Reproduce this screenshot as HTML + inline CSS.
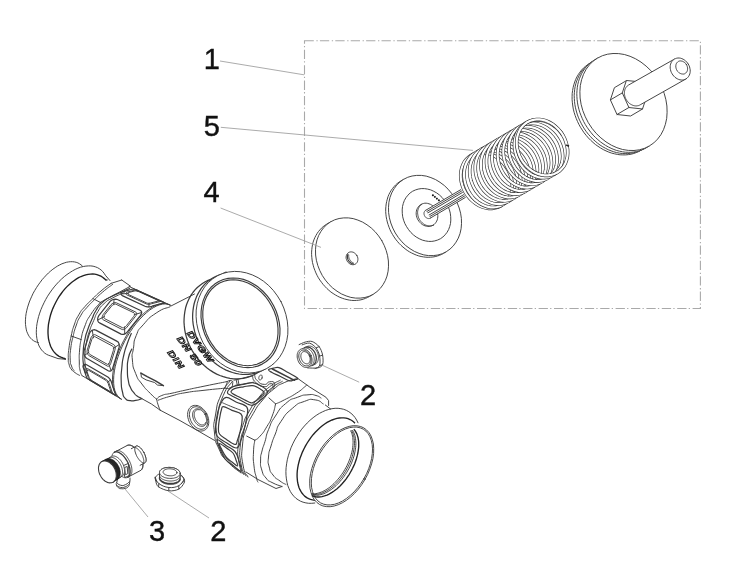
<!DOCTYPE html>
<html><head><meta charset="utf-8"><title>Exploded view</title>
<style>
html,body{margin:0;padding:0;background:#fff;}
svg{display:block}
.l{fill:none;stroke:#3c3c3c;stroke-width:0.95;stroke-linejoin:round;stroke-linecap:round}
.t{fill:none;stroke:#222;stroke-width:1.35}
.g{stroke:#9c9c9c;stroke-width:0.85;fill:none}
.d{stroke:#a9a9a9;stroke-width:1.1;fill:none;stroke-dasharray:9.3 2.6 1.3 2.2}
.e{font-family:"Liberation Sans",sans-serif;font-weight:bold;font-size:8.4px;letter-spacing:0.5px;fill:#fff;stroke:#111;stroke-width:0.8}
.n{font-family:"Liberation Sans",sans-serif;font-size:29px;fill:#111;stroke:#111;stroke-width:0.4}
</style></head><body>
<svg width="750" height="574" viewBox="0 0 750 574">
<defs><filter id="aa" filterUnits="userSpaceOnUse" x="0" y="0" width="750" height="574"><feOffset dx="0" dy="0"/></filter></defs>
<rect width="750" height="574" fill="#fff"/>
<g filter="url(#aa)">
<text class="n" x="203.8" y="69.2">1</text>
<text class="n" x="203.8" y="135.5">5</text>
<text class="n" x="203.5" y="202.2">4</text>
<text class="n" x="360.1" y="405.2">2</text>
<text class="n" x="149.1" y="540.9">3</text>
<text class="n" x="210.3" y="540.9">2</text>
<rect class="d" x="304.5" y="40.7" width="395.9" height="267.8"/>
<path class="l" d="M373.3 294.2 L369.4 296.5 L367.5 297.5 L365.4 298.4 L363.2 299.2 L361.0 299.8 L358.8 300.2 L356.5 300.4 L354.1 300.5 L351.7 300.4 L349.4 300.1 L347.0 299.6 L344.6 299.0 L342.2 298.2 L339.9 297.3 L337.6 296.2 L335.3 294.9 L333.1 293.5 L330.9 292.0 L328.9 290.3 L326.9 288.5 L325.0 286.5 L323.2 284.5 L321.5 282.3 L319.9 280.1 L318.4 277.8 L317.1 275.4 L315.9 272.9 L314.9 270.4 L313.9 267.8 L313.2 265.2 L312.5 262.6 L312.1 260.0 L311.8 257.3 L311.6 254.7 L311.6 252.1 L311.8 249.6 L312.1 247.1 L312.5 244.6 L313.1 242.2 L313.9 239.9 L314.8 237.7 L315.9 235.6 L317.1 233.5 L318.4 231.6 L319.9 229.9 L321.4 228.2 L323.1 226.7 L324.9 225.3 L326.8 224.1 L330.7 221.8" style="fill:#fff"/>
<path class="l" d="M381.7 240.5 L384.2 245.4 L386.2 250.5 L387.6 255.7 L388.4 261.0 L388.5 266.2 L388.1 271.2 L387.0 276.1 L385.3 280.6 L383.0 284.7 L380.3 288.4 L377.0 291.6 L373.3 294.2 L369.3 296.2 L364.9 297.5 L360.3 298.1 L355.6 298.1 L350.8 297.4 L346.1 295.9 L341.4 293.9 L337.0 291.2 L332.7 288.0 L328.9 284.3 L325.4 280.1 L322.3 275.5 L319.8 270.6 L317.8 265.5 L316.4 260.3 L315.6 255.0 L315.5 249.8 L315.9 244.8 L317.0 239.9 L318.7 235.4 L321.0 231.3 L323.7 227.6 L327.0 224.4 L330.7 221.8 L334.7 219.8 L339.1 218.5 L343.7 217.9 L348.4 217.9 L353.2 218.6 L357.9 220.1 L362.6 222.1 L367.0 224.8 L371.3 228.0 L375.1 231.7 L378.6 235.9 L381.7 240.5Z" style="fill:#fff"/>
<path class="l" d="M356.8 255.5 L357.2 256.2 L357.5 257.0 L357.8 257.9 L357.9 258.7 L357.9 259.6 L357.8 260.4 L357.6 261.1 L357.4 261.9 L357.0 262.5 L356.5 263.1 L356.0 263.7 L355.4 264.1 L354.7 264.4 L354.0 264.6 L353.3 264.7 L352.5 264.7 L351.8 264.6 L351.0 264.4 L350.2 264.1 L349.5 263.6 L348.8 263.1 L348.2 262.5 L347.7 261.9 L347.2 261.1 L346.8 260.4 L346.5 259.6 L346.2 258.7 L346.1 257.9 L346.1 257.0 L346.2 256.2 L346.4 255.5 L346.6 254.7 L347.0 254.1 L347.5 253.5 L348.0 252.9 L348.6 252.5 L349.3 252.2 L350.0 252.0 L350.7 251.9 L351.5 251.9 L352.2 252.0 L353.0 252.2 L353.8 252.5 L354.5 253.0 L355.2 253.5 L355.8 254.1 L356.3 254.7 L356.8 255.5Z" />
<path class="l" d="M353.6 264.0 L353.4 264.0 L353.1 263.9 L352.9 263.9 L352.6 263.8 L352.4 263.7 L352.1 263.6 L351.9 263.5 L351.7 263.4 L351.4 263.3 L351.2 263.2 L351.0 263.0 L350.7 262.9 L350.5 262.7 L350.3 262.6 L350.1 262.4 L349.9 262.2 L349.7 262.0 L349.5 261.8 L349.3 261.6 L349.1 261.4 L348.9 261.1 L348.8 260.9 L348.6 260.7 L348.5 260.4 L348.3 260.2 L348.2 259.9 L348.1 259.7 L348.0 259.4 L347.9 259.2 L347.8 258.9 L347.7 258.6 L347.6 258.4 L347.6 258.1 L347.5 257.8 L347.5 257.6 L347.4 257.3 L347.4 257.0 L347.4 256.7 L347.4 256.5 L347.4 256.2 L347.4 255.9 L347.5 255.7 L347.5 255.4 L347.6 255.2 L347.6 254.9 L347.7 254.7 L347.8 254.4 L347.9 254.2" style="stroke-width:1.2"/>
<path class="l" d="M353.3 262.9 L353.1 262.8 L352.9 262.7 L352.8 262.6 L352.6 262.5 L352.4 262.4 L352.3 262.3 L352.1 262.2 L351.9 262.1 L351.8 262.0 L351.6 261.9 L351.5 261.8 L351.3 261.6 L351.2 261.5 L351.0 261.3 L350.9 261.2 L350.7 261.1 L350.6 260.9 L350.5 260.7 L350.3 260.6 L350.2 260.4 L350.1 260.3 L350.0 260.1 L349.9 259.9 L349.8 259.7 L349.7 259.6 L349.6 259.4 L349.5 259.2 L349.4 259.0 L349.3 258.8 L349.2 258.6 L349.2 258.5 L349.1 258.3 L349.0 258.1 L349.0 257.9 L348.9 257.7 L348.9 257.5 L348.8 257.3 L348.8 257.1 L348.8 256.9 L348.7 256.7 L348.7 256.5 L348.7 256.3 L348.7 256.1 L348.7 255.9 L348.7 255.7 L348.7 255.5 L348.7 255.3 L348.7 255.1" />
<path class="l" d="M446.3 251.7 L443.6 253.3 L441.6 254.4 L439.5 255.3 L437.4 256.0 L435.2 256.6 L432.9 257.0 L430.6 257.2 L428.2 257.3 L425.9 257.2 L423.5 256.9 L421.1 256.5 L418.7 255.9 L416.3 255.1 L414.0 254.1 L411.7 253.0 L409.4 251.8 L407.2 250.4 L405.1 248.8 L403.0 247.1 L401.0 245.3 L399.1 243.4 L397.3 241.3 L395.6 239.2 L394.0 236.9 L392.6 234.6 L391.2 232.2 L390.0 229.7 L389.0 227.2 L388.1 224.6 L387.3 222.0 L386.7 219.4 L386.2 216.8 L385.9 214.2 L385.7 211.6 L385.7 209.0 L385.9 206.4 L386.2 203.9 L386.7 201.4 L387.3 199.1 L388.0 196.7 L388.9 194.5 L390.0 192.4 L391.2 190.4 L392.5 188.5 L394.0 186.7 L395.5 185.0 L397.2 183.5 L399.0 182.2 L400.9 180.9 L403.7 179.3" style="fill:#fff"/>
<path class="l" d="M454.7 198.0 L457.2 202.9 L459.2 208.0 L460.6 213.2 L461.4 218.5 L461.5 223.7 L461.1 228.7 L460.0 233.6 L458.3 238.1 L456.0 242.2 L453.3 245.9 L450.0 249.1 L446.3 251.7 L442.3 253.7 L437.9 255.0 L433.3 255.6 L428.6 255.6 L423.8 254.9 L419.1 253.4 L414.4 251.4 L410.0 248.7 L405.7 245.5 L401.9 241.8 L398.4 237.6 L395.3 233.0 L392.8 228.1 L390.8 223.0 L389.4 217.8 L388.6 212.5 L388.5 207.3 L388.9 202.3 L390.0 197.4 L391.7 192.9 L394.0 188.8 L396.7 185.1 L400.0 181.9 L403.7 179.3 L407.7 177.3 L412.1 176.0 L416.7 175.4 L421.4 175.4 L426.2 176.1 L430.9 177.6 L435.6 179.6 L440.0 182.3 L444.3 185.5 L448.1 189.2 L451.6 193.4 L454.7 198.0Z" style="fill:#fff"/>
<path class="l" d="M446.4 203.3 L448.1 206.4 L449.4 209.8 L450.3 213.2 L450.7 216.7 L450.8 220.1 L450.5 223.5 L449.7 226.6 L448.6 229.6 L447.0 232.4 L445.1 234.8 L442.9 237.0 L440.5 238.7 L437.7 240.0 L434.8 240.9 L431.8 241.4 L428.6 241.4 L425.4 240.9 L422.3 240.1 L419.2 238.7 L416.2 237.0 L413.4 234.9 L410.9 232.5 L408.6 229.7 L406.6 226.7 L404.9 223.6 L403.6 220.2 L402.7 216.8 L402.3 213.3 L402.2 209.9 L402.5 206.5 L403.3 203.4 L404.4 200.4 L406.0 197.6 L407.9 195.2 L410.1 193.0 L412.5 191.3 L415.3 190.0 L418.2 189.1 L421.2 188.6 L424.4 188.6 L427.6 189.1 L430.7 189.9 L433.8 191.3 L436.8 193.0 L439.6 195.1 L442.1 197.5 L444.4 200.3 L446.4 203.3Z" />
<path class="l" d="M435.9 209.6 L436.6 210.9 L437.2 212.4 L437.6 213.9 L437.8 215.4 L437.8 216.9 L437.6 218.4 L437.3 219.8 L436.7 221.1 L436.0 222.3 L435.2 223.4 L434.2 224.4 L433.1 225.1 L431.9 225.7 L430.6 226.1 L429.2 226.4 L427.8 226.4 L426.4 226.2 L425.0 225.8 L423.6 225.3 L422.3 224.5 L421.1 223.6 L420.0 222.5 L419.0 221.4 L418.1 220.0 L417.4 218.7 L416.8 217.2 L416.4 215.7 L416.2 214.2 L416.2 212.7 L416.4 211.2 L416.7 209.8 L417.3 208.5 L418.0 207.3 L418.8 206.2 L419.8 205.2 L420.9 204.5 L422.1 203.9 L423.4 203.5 L424.8 203.2 L426.2 203.2 L427.6 203.4 L429.0 203.8 L430.4 204.3 L431.7 205.1 L432.9 206.0 L434.0 207.1 L435.0 208.2 L435.9 209.6Z" />
<path class="l" d="M433.7 225.1 L433.1 225.3 L432.5 225.5 L431.9 225.7 L431.2 225.8 L430.6 225.9 L429.9 225.9 L429.3 225.9 L428.6 225.8 L427.9 225.7 L427.3 225.6 L426.6 225.4 L425.9 225.2 L425.3 224.9 L424.7 224.6 L424.1 224.2 L423.4 223.8 L422.9 223.4 L422.3 222.9 L421.8 222.4 L421.3 221.9 L420.8 221.4 L420.3 220.8 L419.9 220.2 L419.5 219.5 L419.1 218.9 L418.8 218.2 L418.5 217.6 L418.3 216.9 L418.1 216.2 L417.9 215.4 L417.8 214.7 L417.7 214.0 L417.6 213.3 L417.6 212.6 L417.6 211.9 L417.7 211.2 L417.8 210.5 L418.0 209.8 L418.2 209.2 L418.4 208.5 L418.7 207.9 L419.0 207.3 L419.3 206.8 L419.7 206.3 L420.1 205.8 L420.6 205.3 L421.1 204.9 L421.6 204.5" />
<path class="l" d="M430.3 218.1 L465.3 197.5 L460.7 189.7 L425.7 210.3" style="fill:#fff;stroke:none"/>
<line class="l" x1="425.7" y1="210.3" x2="460.7" y2="189.7"/>
<line class="l" x1="426.5" y1="211.7" x2="461.5" y2="191.1"/>
<line class="l" x1="427.4" y1="213.1" x2="462.4" y2="192.5"/>
<line class="l" x1="428.6" y1="215.3" x2="463.6" y2="194.7"/>
<line class="l" x1="429.5" y1="216.7" x2="464.5" y2="196.1"/>
<line class="l" x1="430.3" y1="218.1" x2="465.3" y2="197.5"/>
<path class="l" d="M430.3 218.1 L430.1 218.2 L429.9 218.3 L429.6 218.4 L429.4 218.5 L429.2 218.5 L428.9 218.5 L428.6 218.6 L428.4 218.5 L428.1 218.5 L427.9 218.5 L427.6 218.4 L427.4 218.3 L427.1 218.2 L426.9 218.1 L426.6 218.0 L426.4 217.8 L426.1 217.6 L425.9 217.4 L425.7 217.3 L425.5 217.0 L425.3 216.8 L425.1 216.6 L424.9 216.3 L424.8 216.1 L424.6 215.8 L424.5 215.6 L424.4 215.3 L424.3 215.0 L424.2 214.7 L424.1 214.4 L424.1 214.2 L424.1 213.9 L424.0 213.6 L424.0 213.3 L424.1 213.0 L424.1 212.8 L424.1 212.5 L424.2 212.2 L424.3 212.0 L424.4 211.8 L424.5 211.5 L424.6 211.3 L424.8 211.1 L424.9 210.9 L425.1 210.7 L425.3 210.6 L425.5 210.4 L425.7 210.3" style="fill:#fff"/>
<path d="M432.9 195.2l.01 .01M434.9 196.9l.01 .01M436.9 198.6l.01 .01M438.9 200.3l.01 .01" style="fill:none;stroke:#111;stroke-width:2;stroke-linecap:round"/>
<path d="M471.3 155.2 L474.2 153.8 L477.2 152.9 L480.4 152.4 L483.7 152.4 L487.0 152.9 L490.3 153.9 L493.6 155.4 L496.7 157.2 L499.6 159.5 L502.3 162.1 L504.8 165.0 L506.9 168.2 L508.8 171.5 L510.3 175.0 L511.4 178.6 L512.0 182.2 L512.3 185.8 L512.1 189.2 L511.4 192.5 L510.4 195.6 L508.9 198.4 L507.1 200.9 L504.9 203.1 L502.5 204.8" fill="none" stroke="#333" stroke-width="3.50" stroke-linecap="butt"/>
<path d="M471.3 155.2 L474.2 153.8 L477.2 152.9 L480.4 152.4 L483.7 152.4 L487.0 152.9 L490.3 153.9 L493.6 155.4 L496.7 157.2 L499.6 159.5 L502.3 162.1 L504.8 165.0 L506.9 168.2 L508.8 171.5 L510.3 175.0 L511.4 178.6 L512.0 182.2 L512.3 185.8 L512.1 189.2 L511.4 192.5 L510.4 195.6 L508.9 198.4 L507.1 200.9 L504.9 203.1 L502.5 204.8" fill="none" stroke="#fff" stroke-width="2.20" stroke-linecap="round"/>
<path d="M475.5 152.7 L478.5 151.2 L481.6 150.2 L484.9 149.7 L488.3 149.7 L491.8 150.1 L495.2 151.0 L498.6 152.4 L501.8 154.2 L504.9 156.4 L507.7 158.9 L510.3 161.8 L512.5 164.9 L514.4 168.2 L515.9 171.7 L517.0 175.3 L517.6 178.9 L517.9 182.5 L517.7 185.9 L517.0 189.2 L516.0 192.3 L514.5 195.1 L512.7 197.6 L510.5 199.8 L508.1 201.5" fill="none" stroke="#333" stroke-width="3.50" stroke-linecap="butt"/>
<path d="M475.5 152.7 L478.5 151.2 L481.6 150.2 L484.9 149.7 L488.3 149.7 L491.8 150.1 L495.2 151.0 L498.6 152.4 L501.8 154.2 L504.9 156.4 L507.7 158.9 L510.3 161.8 L512.5 164.9 L514.4 168.2 L515.9 171.7 L517.0 175.3 L517.6 178.9 L517.9 182.5 L517.7 185.9 L517.0 189.2 L516.0 192.3 L514.5 195.1 L512.7 197.6 L510.5 199.8 L508.1 201.5" fill="none" stroke="#fff" stroke-width="2.20" stroke-linecap="round"/>
<path d="M481.1 149.4 L484.1 147.9 L487.2 146.9 L490.5 146.4 L493.9 146.4 L497.4 146.8 L500.8 147.7 L504.2 149.1 L507.4 150.9 L510.5 153.1 L513.3 155.6 L515.9 158.5 L518.1 161.6 L520.0 164.9 L521.5 168.4 L522.6 172.0 L523.2 175.6 L523.5 179.2 L523.3 182.6 L522.6 185.9 L521.6 189.0 L520.1 191.8 L518.3 194.3 L516.1 196.5 L513.7 198.2" fill="none" stroke="#333" stroke-width="3.50" stroke-linecap="butt"/>
<path d="M481.1 149.4 L484.1 147.9 L487.2 146.9 L490.5 146.4 L493.9 146.4 L497.4 146.8 L500.8 147.7 L504.2 149.1 L507.4 150.9 L510.5 153.1 L513.3 155.6 L515.9 158.5 L518.1 161.6 L520.0 164.9 L521.5 168.4 L522.6 172.0 L523.2 175.6 L523.5 179.2 L523.3 182.6 L522.6 185.9 L521.6 189.0 L520.1 191.8 L518.3 194.3 L516.1 196.5 L513.7 198.2" fill="none" stroke="#fff" stroke-width="2.20" stroke-linecap="round"/>
<path d="M486.7 146.1 L489.7 144.6 L492.8 143.6 L496.1 143.1 L499.5 143.1 L503.0 143.5 L506.4 144.4 L509.8 145.8 L513.0 147.6 L516.1 149.8 L518.9 152.3 L521.5 155.2 L523.7 158.3 L525.6 161.6 L527.1 165.1 L528.2 168.7 L528.8 172.3 L529.1 175.9 L528.9 179.3 L528.2 182.6 L527.2 185.7 L525.7 188.5 L523.9 191.0 L521.7 193.2 L519.3 194.9" fill="none" stroke="#333" stroke-width="3.50" stroke-linecap="butt"/>
<path d="M486.7 146.1 L489.7 144.6 L492.8 143.6 L496.1 143.1 L499.5 143.1 L503.0 143.5 L506.4 144.4 L509.8 145.8 L513.0 147.6 L516.1 149.8 L518.9 152.3 L521.5 155.2 L523.7 158.3 L525.6 161.6 L527.1 165.1 L528.2 168.7 L528.8 172.3 L529.1 175.9 L528.9 179.3 L528.2 182.6 L527.2 185.7 L525.7 188.5 L523.9 191.0 L521.7 193.2 L519.3 194.9" fill="none" stroke="#fff" stroke-width="2.20" stroke-linecap="round"/>
<path d="M492.3 142.8 L495.3 141.3 L498.4 140.3 L501.7 139.8 L505.1 139.8 L508.6 140.2 L512.0 141.1 L515.4 142.5 L518.6 144.3 L521.7 146.5 L524.5 149.0 L527.1 151.9 L529.3 155.0 L531.2 158.3 L532.7 161.8 L533.8 165.4 L534.4 169.0 L534.7 172.6 L534.5 176.0 L533.8 179.3 L532.8 182.4 L531.3 185.2 L529.5 187.7 L527.3 189.9 L524.9 191.6" fill="none" stroke="#333" stroke-width="3.50" stroke-linecap="butt"/>
<path d="M492.3 142.8 L495.3 141.3 L498.4 140.3 L501.7 139.8 L505.1 139.8 L508.6 140.2 L512.0 141.1 L515.4 142.5 L518.6 144.3 L521.7 146.5 L524.5 149.0 L527.1 151.9 L529.3 155.0 L531.2 158.3 L532.7 161.8 L533.8 165.4 L534.4 169.0 L534.7 172.6 L534.5 176.0 L533.8 179.3 L532.8 182.4 L531.3 185.2 L529.5 187.7 L527.3 189.9 L524.9 191.6" fill="none" stroke="#fff" stroke-width="2.20" stroke-linecap="round"/>
<path d="M497.9 139.5 L500.9 138.0 L504.0 137.0 L507.3 136.5 L510.7 136.5 L514.2 136.9 L517.6 137.8 L521.0 139.2 L524.2 141.0 L527.3 143.2 L530.1 145.7 L532.7 148.6 L534.9 151.7 L536.8 155.0 L538.3 158.5 L539.4 162.1 L540.0 165.7 L540.3 169.3 L540.1 172.7 L539.4 176.0 L538.4 179.1 L536.9 181.9 L535.1 184.4 L532.9 186.6 L530.5 188.3" fill="none" stroke="#333" stroke-width="3.50" stroke-linecap="butt"/>
<path d="M497.9 139.5 L500.9 138.0 L504.0 137.0 L507.3 136.5 L510.7 136.5 L514.2 136.9 L517.6 137.8 L521.0 139.2 L524.2 141.0 L527.3 143.2 L530.1 145.7 L532.7 148.6 L534.9 151.7 L536.8 155.0 L538.3 158.5 L539.4 162.1 L540.0 165.7 L540.3 169.3 L540.1 172.7 L539.4 176.0 L538.4 179.1 L536.9 181.9 L535.1 184.4 L532.9 186.6 L530.5 188.3" fill="none" stroke="#fff" stroke-width="2.20" stroke-linecap="round"/>
<path d="M503.5 136.2 L506.5 134.7 L509.6 133.7 L512.9 133.2 L516.3 133.2 L519.8 133.6 L523.2 134.5 L526.6 135.9 L529.8 137.7 L532.9 139.9 L535.7 142.4 L538.3 145.3 L540.5 148.4 L542.4 151.7 L543.9 155.2 L545.0 158.8 L545.6 162.4 L545.9 166.0 L545.7 169.4 L545.0 172.7 L544.0 175.8 L542.5 178.6 L540.7 181.1 L538.5 183.3 L536.1 185.0" fill="none" stroke="#333" stroke-width="3.50" stroke-linecap="butt"/>
<path d="M503.5 136.2 L506.5 134.7 L509.6 133.7 L512.9 133.2 L516.3 133.2 L519.8 133.6 L523.2 134.5 L526.6 135.9 L529.8 137.7 L532.9 139.9 L535.7 142.4 L538.3 145.3 L540.5 148.4 L542.4 151.7 L543.9 155.2 L545.0 158.8 L545.6 162.4 L545.9 166.0 L545.7 169.4 L545.0 172.7 L544.0 175.8 L542.5 178.6 L540.7 181.1 L538.5 183.3 L536.1 185.0" fill="none" stroke="#fff" stroke-width="2.20" stroke-linecap="round"/>
<path d="M509.1 132.9 L512.1 131.4 L515.2 130.4 L518.5 129.9 L521.9 129.9 L525.4 130.3 L528.8 131.2 L532.2 132.6 L535.4 134.4 L538.5 136.6 L541.3 139.1 L543.9 142.0 L546.1 145.1 L548.0 148.4 L549.5 151.9 L550.6 155.5 L551.2 159.1 L551.5 162.7 L551.3 166.1 L550.6 169.4 L549.6 172.5 L548.1 175.3 L546.3 177.8 L544.1 180.0 L541.7 181.7" fill="none" stroke="#333" stroke-width="3.50" stroke-linecap="butt"/>
<path d="M509.1 132.9 L512.1 131.4 L515.2 130.4 L518.5 129.9 L521.9 129.9 L525.4 130.3 L528.8 131.2 L532.2 132.6 L535.4 134.4 L538.5 136.6 L541.3 139.1 L543.9 142.0 L546.1 145.1 L548.0 148.4 L549.5 151.9 L550.6 155.5 L551.2 159.1 L551.5 162.7 L551.3 166.1 L550.6 169.4 L549.6 172.5 L548.1 175.3 L546.3 177.8 L544.1 180.0 L541.7 181.7" fill="none" stroke="#fff" stroke-width="2.20" stroke-linecap="round"/>
<path d="M514.7 129.6 L517.7 128.1 L520.8 127.1 L524.1 126.6 L527.5 126.6 L531.0 127.0 L534.4 127.9 L537.8 129.3 L541.0 131.1 L544.1 133.3 L546.9 135.8 L549.5 138.7 L551.7 141.8 L553.6 145.1 L555.1 148.6 L556.2 152.2 L556.8 155.8 L557.1 159.4 L556.9 162.8 L556.2 166.1 L555.2 169.2 L553.7 172.0 L551.9 174.5 L549.7 176.7 L547.3 178.4" fill="none" stroke="#333" stroke-width="3.50" stroke-linecap="butt"/>
<path d="M514.7 129.6 L517.7 128.1 L520.8 127.1 L524.1 126.6 L527.5 126.6 L531.0 127.0 L534.4 127.9 L537.8 129.3 L541.0 131.1 L544.1 133.3 L546.9 135.8 L549.5 138.7 L551.7 141.8 L553.6 145.1 L555.1 148.6 L556.2 152.2 L556.8 155.8 L557.1 159.4 L556.9 162.8 L556.2 166.1 L555.2 169.2 L553.7 172.0 L551.9 174.5 L549.7 176.7 L547.3 178.4" fill="none" stroke="#fff" stroke-width="2.20" stroke-linecap="round"/>
<path d="M520.3 126.3 L523.3 124.8 L526.4 123.8 L529.7 123.3 L533.1 123.3 L536.6 123.7 L540.0 124.6 L543.4 126.0 L546.6 127.8 L549.7 130.0 L552.5 132.5 L555.1 135.4 L557.3 138.5 L559.2 141.8 L560.7 145.3 L561.8 148.9 L562.4 152.5 L562.7 156.1 L562.5 159.5 L561.8 162.8 L560.8 165.9 L559.3 168.7 L557.5 171.2 L555.3 173.4 L552.9 175.1" fill="none" stroke="#333" stroke-width="3.50" stroke-linecap="butt"/>
<path d="M520.3 126.3 L523.3 124.8 L526.4 123.8 L529.7 123.3 L533.1 123.3 L536.6 123.7 L540.0 124.6 L543.4 126.0 L546.6 127.8 L549.7 130.0 L552.5 132.5 L555.1 135.4 L557.3 138.5 L559.2 141.8 L560.7 145.3 L561.8 148.9 L562.4 152.5 L562.7 156.1 L562.5 159.5 L561.8 162.8 L560.8 165.9 L559.3 168.7 L557.5 171.2 L555.3 173.4 L552.9 175.1" fill="none" stroke="#fff" stroke-width="2.20" stroke-linecap="round"/>
<path d="M525.9 123.0 L528.9 121.5 L532.0 120.5 L535.3 120.0 L538.7 120.0 L542.2 120.4 L545.6 121.3 L549.0 122.7 L552.2 124.5 L555.3 126.7 L558.1 129.2 L560.7 132.1 L562.9 135.2 L564.7 138.6 L566.0 142.2 L567.0 145.8 L567.6 149.5 L567.7 153.1 L567.4 156.6 L566.6 160.0 L565.4 163.2 L563.9 166.1 L561.9 168.6 L559.6 170.8 L557.1 172.6" fill="none" stroke="#333" stroke-width="3.50" stroke-linecap="butt"/>
<path d="M525.9 123.0 L528.9 121.5 L532.0 120.5 L535.3 120.0 L538.7 120.0 L542.2 120.4 L545.6 121.3 L549.0 122.7 L552.2 124.5 L555.3 126.7 L558.1 129.2 L560.7 132.1 L562.9 135.2 L564.7 138.6 L566.0 142.2 L567.0 145.8 L567.6 149.5 L567.7 153.1 L567.4 156.6 L566.6 160.0 L565.4 163.2 L563.9 166.1 L561.9 168.6 L559.6 170.8 L557.1 172.6" fill="none" stroke="#fff" stroke-width="2.20" stroke-linecap="round"/>
<path d="M527.3 122.2 L530.2 120.8 L533.2 119.9 L536.4 119.4 L539.7 119.4 L543.0 119.9 L546.3 120.9 L549.6 122.4 L552.7 124.2 L555.6 126.5 L558.3 129.1 L560.8 132.0 L562.9 135.2" fill="none" stroke="#333" stroke-width="3.50" stroke-linecap="butt"/>
<path d="M527.3 122.2 L530.2 120.8 L533.2 119.9 L536.4 119.4 L539.7 119.4 L543.0 119.9 L546.3 120.9 L549.6 122.4 L552.7 124.2 L555.6 126.5 L558.3 129.1 L560.8 132.0 L562.9 135.2" fill="none" stroke="#fff" stroke-width="2.20" stroke-linecap="round"/>
<path d="M501.1 205.6 L498.2 207.0 L495.2 207.9 L492.0 208.4 L488.7 208.4 L485.4 207.9 L482.1 206.9 L478.8 205.4 L475.7 203.6 L472.8 201.3 L470.1 198.7 L467.6 195.8 L465.5 192.6 L463.7 189.2 L462.4 185.6 L461.4 182.0 L460.8 178.3 L460.7 174.7 L461.0 171.2 L461.8 167.8 L463.0 164.6 L464.5 161.7 L466.5 159.2 L468.8 157.0 L471.3 155.2" fill="none" stroke="#333" stroke-width="3.50" stroke-linecap="butt"/>
<path d="M501.1 205.6 L498.2 207.0 L495.2 207.9 L492.0 208.4 L488.7 208.4 L485.4 207.9 L482.1 206.9 L478.8 205.4 L475.7 203.6 L472.8 201.3 L470.1 198.7 L467.6 195.8 L465.5 192.6 L463.7 189.2 L462.4 185.6 L461.4 182.0 L460.8 178.3 L460.7 174.7 L461.0 171.2 L461.8 167.8 L463.0 164.6 L464.5 161.7 L466.5 159.2 L468.8 157.0 L471.3 155.2" fill="none" stroke="#fff" stroke-width="2.20" stroke-linecap="round"/>
<path d="M502.5 204.8 L499.8 206.1 L496.8 207.0 L493.8 207.4 L490.6 207.3 L487.4 206.7 L484.2 205.6 L481.0 204.1 L478.0 202.2 L475.2 199.9 L472.6 197.2 L470.3 194.2 L468.3 190.9 L466.7 187.5 L465.4 183.9 L464.5 180.1 L464.1 176.4 L464.1 172.7 L464.5 169.1 L465.4 165.7 L466.7 162.4 L468.4 159.5 L470.4 156.8 L472.8 154.6 L475.5 152.7" fill="none" stroke="#333" stroke-width="3.50" stroke-linecap="butt"/>
<path d="M502.5 204.8 L499.8 206.1 L496.8 207.0 L493.8 207.4 L490.6 207.3 L487.4 206.7 L484.2 205.6 L481.0 204.1 L478.0 202.2 L475.2 199.9 L472.6 197.2 L470.3 194.2 L468.3 190.9 L466.7 187.5 L465.4 183.9 L464.5 180.1 L464.1 176.4 L464.1 172.7 L464.5 169.1 L465.4 165.7 L466.7 162.4 L468.4 159.5 L470.4 156.8 L472.8 154.6 L475.5 152.7" fill="none" stroke="#fff" stroke-width="2.20" stroke-linecap="round"/>
<path d="M508.1 201.5 L505.4 202.8 L502.4 203.7 L499.4 204.1 L496.2 204.0 L493.0 203.4 L489.8 202.3 L486.6 200.8 L483.6 198.9 L480.8 196.6 L478.2 193.9 L475.9 190.9 L473.9 187.6 L472.3 184.2 L471.0 180.6 L470.1 176.8 L469.7 173.1 L469.7 169.4 L470.1 165.8 L471.0 162.4 L472.3 159.1 L474.0 156.2 L476.0 153.5 L478.4 151.3 L481.1 149.4" fill="none" stroke="#333" stroke-width="3.50" stroke-linecap="butt"/>
<path d="M508.1 201.5 L505.4 202.8 L502.4 203.7 L499.4 204.1 L496.2 204.0 L493.0 203.4 L489.8 202.3 L486.6 200.8 L483.6 198.9 L480.8 196.6 L478.2 193.9 L475.9 190.9 L473.9 187.6 L472.3 184.2 L471.0 180.6 L470.1 176.8 L469.7 173.1 L469.7 169.4 L470.1 165.8 L471.0 162.4 L472.3 159.1 L474.0 156.2 L476.0 153.5 L478.4 151.3 L481.1 149.4" fill="none" stroke="#fff" stroke-width="2.20" stroke-linecap="round"/>
<path d="M513.7 198.2 L511.0 199.5 L508.0 200.4 L505.0 200.8 L501.8 200.7 L498.6 200.1 L495.4 199.0 L492.2 197.5 L489.2 195.6 L486.4 193.3 L483.8 190.6 L481.5 187.6 L479.5 184.3 L477.9 180.9 L476.6 177.3 L475.7 173.5 L475.3 169.8 L475.3 166.1 L475.7 162.5 L476.6 159.1 L477.9 155.8 L479.6 152.9 L481.6 150.2 L484.0 148.0 L486.7 146.1" fill="none" stroke="#333" stroke-width="3.50" stroke-linecap="butt"/>
<path d="M513.7 198.2 L511.0 199.5 L508.0 200.4 L505.0 200.8 L501.8 200.7 L498.6 200.1 L495.4 199.0 L492.2 197.5 L489.2 195.6 L486.4 193.3 L483.8 190.6 L481.5 187.6 L479.5 184.3 L477.9 180.9 L476.6 177.3 L475.7 173.5 L475.3 169.8 L475.3 166.1 L475.7 162.5 L476.6 159.1 L477.9 155.8 L479.6 152.9 L481.6 150.2 L484.0 148.0 L486.7 146.1" fill="none" stroke="#fff" stroke-width="2.20" stroke-linecap="round"/>
<path d="M519.3 194.9 L516.6 196.2 L513.6 197.1 L510.6 197.5 L507.4 197.4 L504.2 196.8 L501.0 195.7 L497.8 194.2 L494.8 192.3 L492.0 190.0 L489.4 187.3 L487.1 184.3 L485.1 181.0 L483.5 177.6 L482.2 174.0 L481.3 170.2 L480.9 166.5 L480.9 162.8 L481.3 159.2 L482.2 155.8 L483.5 152.5 L485.2 149.6 L487.2 146.9 L489.6 144.7 L492.3 142.8" fill="none" stroke="#333" stroke-width="3.50" stroke-linecap="butt"/>
<path d="M519.3 194.9 L516.6 196.2 L513.6 197.1 L510.6 197.5 L507.4 197.4 L504.2 196.8 L501.0 195.7 L497.8 194.2 L494.8 192.3 L492.0 190.0 L489.4 187.3 L487.1 184.3 L485.1 181.0 L483.5 177.6 L482.2 174.0 L481.3 170.2 L480.9 166.5 L480.9 162.8 L481.3 159.2 L482.2 155.8 L483.5 152.5 L485.2 149.6 L487.2 146.9 L489.6 144.7 L492.3 142.8" fill="none" stroke="#fff" stroke-width="2.20" stroke-linecap="round"/>
<path d="M524.9 191.6 L522.2 192.9 L519.2 193.8 L516.2 194.2 L513.0 194.1 L509.8 193.5 L506.6 192.4 L503.4 190.9 L500.4 189.0 L497.6 186.7 L495.0 184.0 L492.7 181.0 L490.7 177.7 L489.1 174.3 L487.8 170.7 L486.9 166.9 L486.5 163.2 L486.5 159.5 L486.9 155.9 L487.8 152.5 L489.1 149.2 L490.8 146.3 L492.8 143.6 L495.2 141.4 L497.9 139.5" fill="none" stroke="#333" stroke-width="3.50" stroke-linecap="butt"/>
<path d="M524.9 191.6 L522.2 192.9 L519.2 193.8 L516.2 194.2 L513.0 194.1 L509.8 193.5 L506.6 192.4 L503.4 190.9 L500.4 189.0 L497.6 186.7 L495.0 184.0 L492.7 181.0 L490.7 177.7 L489.1 174.3 L487.8 170.7 L486.9 166.9 L486.5 163.2 L486.5 159.5 L486.9 155.9 L487.8 152.5 L489.1 149.2 L490.8 146.3 L492.8 143.6 L495.2 141.4 L497.9 139.5" fill="none" stroke="#fff" stroke-width="2.20" stroke-linecap="round"/>
<path d="M530.5 188.3 L527.8 189.6 L524.8 190.5 L521.8 190.9 L518.6 190.8 L515.4 190.2 L512.2 189.1 L509.0 187.6 L506.0 185.7 L503.2 183.4 L500.6 180.7 L498.3 177.7 L496.3 174.4 L494.7 171.0 L493.4 167.4 L492.5 163.6 L492.1 159.9 L492.1 156.2 L492.5 152.6 L493.4 149.2 L494.7 145.9 L496.4 143.0 L498.4 140.3 L500.8 138.1 L503.5 136.2" fill="none" stroke="#333" stroke-width="3.50" stroke-linecap="butt"/>
<path d="M530.5 188.3 L527.8 189.6 L524.8 190.5 L521.8 190.9 L518.6 190.8 L515.4 190.2 L512.2 189.1 L509.0 187.6 L506.0 185.7 L503.2 183.4 L500.6 180.7 L498.3 177.7 L496.3 174.4 L494.7 171.0 L493.4 167.4 L492.5 163.6 L492.1 159.9 L492.1 156.2 L492.5 152.6 L493.4 149.2 L494.7 145.9 L496.4 143.0 L498.4 140.3 L500.8 138.1 L503.5 136.2" fill="none" stroke="#fff" stroke-width="2.20" stroke-linecap="round"/>
<path d="M536.1 185.0 L533.4 186.3 L530.4 187.2 L527.4 187.6 L524.2 187.5 L521.0 186.9 L517.8 185.8 L514.6 184.3 L511.6 182.4 L508.8 180.1 L506.2 177.4 L503.9 174.4 L501.9 171.1 L500.3 167.7 L499.0 164.1 L498.1 160.3 L497.7 156.6 L497.7 152.9 L498.1 149.3 L499.0 145.9 L500.3 142.6 L502.0 139.7 L504.0 137.0 L506.4 134.8 L509.1 132.9" fill="none" stroke="#333" stroke-width="3.50" stroke-linecap="butt"/>
<path d="M536.1 185.0 L533.4 186.3 L530.4 187.2 L527.4 187.6 L524.2 187.5 L521.0 186.9 L517.8 185.8 L514.6 184.3 L511.6 182.4 L508.8 180.1 L506.2 177.4 L503.9 174.4 L501.9 171.1 L500.3 167.7 L499.0 164.1 L498.1 160.3 L497.7 156.6 L497.7 152.9 L498.1 149.3 L499.0 145.9 L500.3 142.6 L502.0 139.7 L504.0 137.0 L506.4 134.8 L509.1 132.9" fill="none" stroke="#fff" stroke-width="2.20" stroke-linecap="round"/>
<path d="M541.7 181.7 L539.0 183.0 L536.0 183.9 L533.0 184.3 L529.8 184.2 L526.6 183.6 L523.4 182.5 L520.2 181.0 L517.2 179.1 L514.4 176.8 L511.8 174.1 L509.5 171.1 L507.5 167.8 L505.9 164.4 L504.6 160.8 L503.7 157.0 L503.3 153.3 L503.3 149.6 L503.7 146.0 L504.6 142.6 L505.9 139.3 L507.6 136.4 L509.6 133.7 L512.0 131.5 L514.7 129.6" fill="none" stroke="#333" stroke-width="3.50" stroke-linecap="butt"/>
<path d="M541.7 181.7 L539.0 183.0 L536.0 183.9 L533.0 184.3 L529.8 184.2 L526.6 183.6 L523.4 182.5 L520.2 181.0 L517.2 179.1 L514.4 176.8 L511.8 174.1 L509.5 171.1 L507.5 167.8 L505.9 164.4 L504.6 160.8 L503.7 157.0 L503.3 153.3 L503.3 149.6 L503.7 146.0 L504.6 142.6 L505.9 139.3 L507.6 136.4 L509.6 133.7 L512.0 131.5 L514.7 129.6" fill="none" stroke="#fff" stroke-width="2.20" stroke-linecap="round"/>
<path d="M547.3 178.4 L544.6 179.7 L541.6 180.6 L538.6 181.0 L535.4 180.9 L532.2 180.3 L529.0 179.2 L525.8 177.7 L522.8 175.8 L520.0 173.5 L517.4 170.8 L515.1 167.8 L513.1 164.5 L511.5 161.1 L510.2 157.5 L509.3 153.7 L508.9 150.0 L508.9 146.3 L509.3 142.7 L510.2 139.3 L511.5 136.0 L513.2 133.1 L515.2 130.4 L517.6 128.2 L520.3 126.3" fill="none" stroke="#333" stroke-width="3.50" stroke-linecap="butt"/>
<path d="M547.3 178.4 L544.6 179.7 L541.6 180.6 L538.6 181.0 L535.4 180.9 L532.2 180.3 L529.0 179.2 L525.8 177.7 L522.8 175.8 L520.0 173.5 L517.4 170.8 L515.1 167.8 L513.1 164.5 L511.5 161.1 L510.2 157.5 L509.3 153.7 L508.9 150.0 L508.9 146.3 L509.3 142.7 L510.2 139.3 L511.5 136.0 L513.2 133.1 L515.2 130.4 L517.6 128.2 L520.3 126.3" fill="none" stroke="#fff" stroke-width="2.20" stroke-linecap="round"/>
<path d="M552.9 175.1 L550.2 176.4 L547.2 177.3 L544.2 177.7 L541.0 177.6 L537.8 177.0 L534.6 175.9 L531.4 174.4 L528.4 172.5 L525.6 170.2 L523.0 167.5 L520.7 164.5 L518.7 161.2 L517.1 157.8 L515.8 154.2 L514.9 150.4 L514.5 146.7 L514.5 143.0 L514.9 139.4 L515.8 136.0 L517.1 132.7 L518.8 129.8 L520.8 127.1 L523.2 124.9 L525.9 123.0" fill="none" stroke="#333" stroke-width="3.50" stroke-linecap="butt"/>
<path d="M552.9 175.1 L550.2 176.4 L547.2 177.3 L544.2 177.7 L541.0 177.6 L537.8 177.0 L534.6 175.9 L531.4 174.4 L528.4 172.5 L525.6 170.2 L523.0 167.5 L520.7 164.5 L518.7 161.2 L517.1 157.8 L515.8 154.2 L514.9 150.4 L514.5 146.7 L514.5 143.0 L514.9 139.4 L515.8 136.0 L517.1 132.7 L518.8 129.8 L520.8 127.1 L523.2 124.9 L525.9 123.0" fill="none" stroke="#fff" stroke-width="2.20" stroke-linecap="round"/>
<path d="M557.1 172.6 L554.2 174.0 L551.2 174.9 L548.0 175.4 L544.7 175.4 L541.4 174.9 L538.1 173.9 L534.8 172.4 L531.7 170.6 L528.8 168.3 L526.1 165.7 L523.6 162.8 L521.5 159.6 L519.7 156.2 L518.4 152.6 L517.4 149.0 L516.8 145.3 L516.7 141.7 L517.0 138.2 L517.8 134.8 L519.0 131.6 L520.5 128.7 L522.5 126.2 L524.8 124.0 L527.3 122.2" fill="none" stroke="#333" stroke-width="3.50" stroke-linecap="butt"/>
<path d="M557.1 172.6 L554.2 174.0 L551.2 174.9 L548.0 175.4 L544.7 175.4 L541.4 174.9 L538.1 173.9 L534.8 172.4 L531.7 170.6 L528.8 168.3 L526.1 165.7 L523.6 162.8 L521.5 159.6 L519.7 156.2 L518.4 152.6 L517.4 149.0 L516.8 145.3 L516.7 141.7 L517.0 138.2 L517.8 134.8 L519.0 131.6 L520.5 128.7 L522.5 126.2 L524.8 124.0 L527.3 122.2" fill="none" stroke="#fff" stroke-width="2.20" stroke-linecap="round"/>
<path d="M566.2 145.0L569.0 146.3" style="fill:none;stroke:#222;stroke-width:1.5"/>
<path class="l" d="M649.1 145.5 L640.9 150.3 L638.6 151.6 L636.2 152.6 L633.7 153.5 L631.1 154.2 L628.4 154.6 L625.7 154.9 L622.9 154.9 L620.1 154.8 L617.3 154.4 L614.5 153.8 L611.6 153.1 L608.8 152.1 L606.0 150.9 L603.3 149.6 L600.6 148.0 L598.0 146.3 L595.4 144.5 L593.0 142.4 L590.6 140.2 L588.3 137.9 L586.2 135.4 L584.1 132.8 L582.3 130.1 L580.5 127.3 L578.9 124.4 L577.5 121.5 L576.2 118.4 L575.1 115.4 L574.1 112.3 L573.3 109.1 L572.8 106.0 L572.4 102.8 L572.1 99.7 L572.1 96.6 L572.2 93.5 L572.6 90.6 L573.1 87.6 L573.8 84.8 L574.7 82.0 L575.7 79.4 L576.9 76.9 L578.3 74.5 L579.9 72.2 L581.5 70.1 L583.4 68.1 L585.4 66.4 L587.5 64.7 L589.7 63.3 L597.9 58.5" style="fill:#fff"/>
<path class="l" d="M649.1 145.5 L643.1 149.1 L640.8 150.3 L638.3 151.4 L635.8 152.2 L633.2 152.9 L630.5 153.3 L627.8 153.6 L625.1 153.6 L622.3 153.5 L619.4 153.1 L616.6 152.6 L613.8 151.8 L611.0 150.8 L608.2 149.7 L605.5 148.3 L602.8 146.8 L600.1 145.1 L597.6 143.2 L595.1 141.1 L592.7 139.0 L590.5 136.6 L588.3 134.2 L586.3 131.6 L584.4 128.9 L582.7 126.1 L581.1 123.2 L579.6 120.2 L578.3 117.2 L577.2 114.1 L576.3 111.0 L575.5 107.8 L574.9 104.7 L574.5 101.6 L574.3 98.4 L574.2 95.3 L574.4 92.3 L574.7 89.3 L575.2 86.4 L575.9 83.5 L576.8 80.8 L577.9 78.1 L579.1 75.6 L580.5 73.2 L582.0 70.9 L583.7 68.8 L585.5 66.9 L587.5 65.1 L589.6 63.5 L591.8 62.0 L597.9 58.5" style="fill:#fff"/>
<path class="l" d="M649.4 145.9 L646.4 147.7 L644.0 149.0 L641.6 150.0 L639.0 150.9 L636.4 151.6 L633.7 152.0 L630.9 152.3 L628.2 152.3 L625.3 152.2 L622.5 151.8 L619.6 151.2 L616.8 150.5 L613.9 149.5 L611.1 148.3 L608.4 147.0 L605.6 145.4 L603.0 143.7 L600.4 141.8 L597.9 139.7 L595.5 137.5 L593.2 135.2 L591.1 132.7 L589.0 130.0 L587.1 127.3 L585.3 124.5 L583.7 121.6 L582.3 118.6 L581.0 115.5 L579.8 112.4 L578.9 109.3 L578.1 106.1 L577.5 102.9 L577.1 99.7 L576.9 96.6 L576.8 93.5 L577.0 90.4 L577.3 87.3 L577.8 84.4 L578.5 81.5 L579.4 78.7 L580.5 76.1 L581.7 73.5 L583.1 71.1 L584.7 68.8 L586.4 66.7 L588.2 64.7 L590.2 62.9 L592.4 61.3 L594.6 59.8 L597.6 58.1" style="fill:#fff"/>
<path class="l" d="M658.7 81.3 L661.7 87.2 L664.2 93.4 L665.9 99.7 L666.9 106.0 L667.1 112.3 L666.7 118.4 L665.4 124.3 L663.5 129.7 L660.9 134.7 L657.6 139.1 L653.8 142.9 L649.4 145.9 L644.6 148.3 L639.4 149.8 L634.0 150.5 L628.3 150.4 L622.6 149.5 L616.9 147.7 L611.4 145.2 L606.0 141.9 L600.9 137.9 L596.2 133.4 L592.0 128.3 L588.3 122.7 L585.3 116.8 L582.8 110.6 L581.1 104.3 L580.1 98.0 L579.9 91.7 L580.3 85.6 L581.6 79.7 L583.5 74.3 L586.1 69.3 L589.4 64.9 L593.2 61.1 L597.6 58.1 L602.4 55.7 L607.6 54.2 L613.0 53.5 L618.7 53.6 L624.4 54.5 L630.1 56.3 L635.6 58.8 L641.0 62.1 L646.1 66.1 L650.8 70.6 L655.0 75.7 L658.7 81.3Z" style="fill:#fff"/>
<path class="l" d="M626.3 80.7 L614.4 87.7 L610.4 99.9 L617.0 114.5 L630.6 116.0 L642.5 109.0 L646.5 96.9 L640.0 82.2Z" style="fill:#fff"/>
<path class="l" d="M626.3 80.7 L622.3 92.9 L628.9 107.5 L642.5 109.0" />
<line class="l" x1="622.3" y1="92.9" x2="610.4" y2="99.9"/>
<line class="l" x1="628.9" y1="107.5" x2="617.0" y2="114.5"/>
<path class="l" d="M686.0 78.9 L640.2 104.8 L639.7 105.1 L639.1 105.3 L638.5 105.6 L637.9 105.7 L637.3 105.8 L636.7 105.9 L636.0 105.9 L635.4 105.9 L634.7 105.8 L634.1 105.7 L633.4 105.5 L632.8 105.3 L632.1 105.0 L631.5 104.7 L630.9 104.4 L630.3 104.0 L629.7 103.6 L629.1 103.1 L628.6 102.6 L628.1 102.1 L627.6 101.5 L627.1 100.9 L626.7 100.3 L626.3 99.7 L625.9 99.0 L625.6 98.4 L625.3 97.7 L625.0 97.0 L624.8 96.2 L624.7 95.5 L624.5 94.8 L624.4 94.1 L624.4 93.4 L624.4 92.7 L624.4 92.0 L624.5 91.3 L624.7 90.6 L624.8 90.0 L625.0 89.3 L625.3 88.7 L625.6 88.1 L625.9 87.6 L626.3 87.1 L626.7 86.6 L627.1 86.1 L627.6 85.7 L628.0 85.3 L628.6 85.0 L674.4 59.1" style="fill:#fff"/>
<path class="l" d="M688.3 64.2 L689.0 65.5 L689.6 66.9 L689.9 68.4 L690.2 69.8 L690.2 71.2 L690.1 72.6 L689.8 73.9 L689.3 75.2 L688.7 76.3 L687.9 77.3 L687.0 78.2 L686.0 78.9 L684.9 79.4 L683.7 79.8 L682.5 80.0 L681.2 80.0 L679.9 79.8 L678.6 79.4 L677.3 78.8 L676.1 78.1 L674.9 77.2 L673.9 76.2 L672.9 75.0 L672.1 73.8 L671.4 72.5 L670.8 71.1 L670.5 69.6 L670.2 68.2 L670.2 66.8 L670.3 65.4 L670.6 64.1 L671.1 62.8 L671.7 61.7 L672.5 60.7 L673.4 59.8 L674.4 59.1 L675.5 58.6 L676.7 58.2 L677.9 58.0 L679.2 58.0 L680.5 58.2 L681.8 58.6 L683.1 59.2 L684.3 59.9 L685.5 60.8 L686.5 61.8 L687.5 63.0 L688.3 64.2Z" style="fill:#fff"/>
<path class="l" d="M686.5 64.7 L686.9 65.5 L687.2 66.3 L687.4 67.2 L687.6 68.0 L687.6 68.9 L687.5 69.7 L687.4 70.5 L687.1 71.2 L686.8 71.9 L686.3 72.5 L685.8 73.0 L685.2 73.4 L684.6 73.8 L683.9 74.0 L683.1 74.1 L682.4 74.0 L681.6 73.9 L680.8 73.7 L680.1 73.3 L679.3 72.9 L678.6 72.4 L678.0 71.7 L677.4 71.1 L676.9 70.3 L676.5 69.5 L676.2 68.7 L676.0 67.8 L675.8 67.0 L675.8 66.1 L675.9 65.3 L676.0 64.5 L676.3 63.8 L676.6 63.1 L677.1 62.5 L677.6 62.0 L678.2 61.6 L678.8 61.2 L679.5 61.0 L680.3 60.9 L681.0 61.0 L681.8 61.1 L682.6 61.3 L683.3 61.7 L684.1 62.1 L684.8 62.6 L685.4 63.3 L686.0 63.9 L686.5 64.7Z" />
<path class="l" d="M38.4 342.6 L36.6 342.1 L34.9 341.5 L33.4 340.6 L31.9 339.5 L30.6 338.2 L29.4 336.7 L28.4 335.1 L27.5 333.2 L26.7 331.3 L26.2 329.1 L25.8 326.8 L25.5 324.4 L25.4 321.9 L25.5 319.2 L25.7 316.5 L26.1 313.7 L26.7 310.8 L27.4 307.9 L28.3 305.0 L29.3 302.0 L30.5 299.1 L31.8 296.2 L33.2 293.2 L34.8 290.4 L36.5 287.6 L38.3 284.9 L40.2 282.3 L42.1 279.7 L44.2 277.4 L46.3 275.1 L48.4 273.0 L50.7 271.0 L52.9 269.2 L55.2 267.6 L57.4 266.1 L59.7 264.9 L61.9 263.8 L64.2 263.0 L66.3 262.3 L68.5 261.9 L70.5 261.7 L72.5 261.7 L74.4 261.9 L76.2 262.3 L77.9 262.9 L79.5 263.8 L81.0 264.8 L82.4 266.1" />
<path class="l" d="M65.6 359.3 L58.0 358.6 L50.8 356.0 L48.7 355.3 L46.7 354.4 L44.8 353.2 L43.2 351.7 L41.6 350.0 L40.3 348.1 L39.1 346.0 L38.2 343.7 L37.4 341.2 L36.9 338.6 L36.5 335.8 L36.3 332.8 L36.4 329.7 L36.6 326.5 L37.1 323.2 L37.8 319.9 L38.6 316.5 L39.7 313.1 L40.9 309.7 L42.4 306.2 L44.0 302.8 L45.7 299.5 L47.6 296.2 L49.7 293.0 L51.9 289.9 L54.2 286.9 L56.6 284.1 L59.1 281.4 L61.7 278.9 L64.3 276.6 L67.0 274.5 L69.8 272.6 L72.5 270.9 L75.2 269.4 L77.9 268.2 L80.6 267.2 L83.3 266.5 L85.9 266.1 L88.4 265.9 L90.8 265.9 L93.1 266.2 L95.3 266.8 L97.4 267.6 L99.3 268.7 L101.1 270.0 L102.7 271.5 L104.1 273.3 L105.4 275.3 L110.0 280.6" />
<path class="t" d="M65.6 359.3 L65.0 358.5 L62.9 358.0 L60.9 357.2 L59.1 356.3 L57.3 355.1 L55.7 353.7 L54.2 352.1 L52.9 350.3 L51.7 348.3 L50.6 346.2 L49.8 343.8 L49.1 341.4 L48.5 338.8 L48.2 336.0 L48.0 333.2 L48.0 330.3 L48.2 327.3 L48.5 324.2 L49.1 321.1 L49.8 317.9 L50.6 314.8 L51.6 311.7 L52.8 308.6 L54.2 305.5 L55.7 302.5 L57.3 299.5 L59.0 296.7 L60.9 294.0 L62.8 291.4 L64.9 288.9 L67.0 286.6 L69.3 284.4 L71.5 282.5 L73.9 280.7 L76.2 279.1 L78.6 277.7 L81.0 276.5 L83.4 275.6 L85.8 274.8 L88.1 274.3 L90.4 274.1 L92.7 274.0 L94.8 274.2 L96.9 274.6 L98.9 275.3 L100.9 276.2 L102.6 277.3 L104.3 278.6 L105.8 280.1 L107.5 279.8" />
<path class="l" d="M121.7 280.0 L111.0 283.4" />
<path class="l" d="M111.0 283.4 C107.7 285.9 107.0 285.9 101.0 291.0 C95.0 296.1 98.2 293.4 92.9 298.6 C87.6 303.8 89.7 301.1 85.0 306.5 C80.3 311.9 82.4 308.6 78.8 314.8 C75.2 321.0 76.7 317.9 74.2 325.0 C71.7 332.1 72.9 328.3 71.2 336.0 C69.5 343.7 70.0 340.3 69.0 348.0 C68.0 355.7 68.3 353.7 68.3 359.0 C68.3 364.3 68.1 360.7 69.0 364.0 C69.9 367.3 69.0 365.9 71.0 368.8 C73.0 371.7 72.2 370.4 75.0 372.6 C77.8 374.8 78.0 374.4 79.5 375.3" />
<path class="l" d="M112.6 284.4 C109.2 287.0 108.5 287.1 102.5 292.2 C96.5 297.3 97.2 297.1 94.6 299.6" />
<path class="l" d="M94.6 299.6 C92.0 302.3 91.5 302.2 86.8 307.6 C82.1 313.0 84.2 309.7 80.6 315.8 C77.0 321.9 78.5 319.1 76.0 326.0 C73.5 332.9 74.0 333.1 73.0 336.6" />
<path class="l" d="M73.0 336.6 C72.3 340.4 71.7 340.5 70.8 348.0 C69.9 355.5 70.0 353.0 70.2 359.0 C70.4 365.0 70.2 362.2 71.5 366.0 C72.8 369.8 73.2 369.0 74.0 370.5" />
<path class="l" d="M121.7 280.0 L130.5 286.2 L100.3 302.4" />
<path class="l" d="M92.9 298.6 L100.3 302.4" />
<path class="l" d="M100.3 302.4 C97.2 306.4 96.2 306.1 90.9 314.3 C85.6 322.5 87.8 318.6 84.5 327.0 C81.2 335.4 82.2 335.3 81.0 339.5" />
<path class="l" d="M71.2 336.0 L81.0 339.5" />
<path class="l" d="M81.0 339.5 C80.5 343.0 80.2 342.5 79.6 350.0 C79.0 357.5 79.2 355.3 79.3 362.0 C79.4 368.7 79.1 365.4 80.0 370.0 C80.9 374.6 81.3 373.9 82.0 375.8" />
<path class="l" d="M133.0 289.0 L133.9 289.2 L135.0 289.5 L136.3 289.9 L137.6 290.4 L138.8 291.0 L140.0 291.5 L162.7 301.7 L163.6 302.2 L164.3 302.5 L164.7 302.8 L164.8 303.0 L164.5 303.0 L163.8 303.0 L152.9 305.8 L151.8 306.3 L150.4 306.7 L149.0 306.9 L147.5 306.9 L146.2 306.7 L145.0 306.3 L122.8 295.9 L121.9 295.3 L121.3 294.6 L121.0 293.8 L121.2 293.1 L121.7 292.3 L122.5 291.8Z" style="stroke-width:1.20"/>
<path class="l" d="M134.6 290.3 L135.3 290.4 L136.1 290.5 L137.0 290.7 L137.9 291.1 L138.8 291.4 L139.6 291.7 L158.9 300.5 L159.6 300.8 L160.1 301.1 L160.3 301.4 L160.4 301.5 L160.1 301.6 L159.6 301.7 L151.6 303.7 L150.9 304.0 L149.9 304.2 L148.9 304.3 L147.9 304.3 L146.9 304.1 L146.1 303.8 L127.1 295.0 L126.4 294.6 L126.0 294.1 L125.9 293.6 L125.9 293.1 L126.3 292.7 L126.9 292.3Z" style="stroke-width:0.95"/>
<path class="l" d="M135.4 290.9 L135.9 290.9 L136.5 291.0 L137.2 291.2 L137.9 291.4 L138.6 291.6 L139.2 291.8 L157.7 300.2 L158.1 300.5 L158.5 300.7 L158.6 300.9 L158.6 301.0 L158.3 301.1 L157.9 301.1 L151.0 302.9 L150.3 303.1 L149.6 303.3 L148.9 303.4 L148.1 303.3 L147.4 303.2 L146.8 303.0 L128.6 294.6 L128.1 294.3 L127.8 294.0 L127.7 293.6 L127.8 293.2 L128.1 292.9 L128.6 292.6Z" style="stroke-width:0.95"/>
<line class="l" x1="136.3" y1="289.9" x2="137.1" y2="291.2"/>
<line class="l" x1="164.7" y1="302.8" x2="158.0" y2="300.7"/>
<line class="l" x1="121.0" y1="293.9" x2="128.4" y2="293.5"/>
<line class="l" x1="148.9" y1="306.9" x2="149.1" y2="303.0"/>
<path class="l" d="M110.1 301.4 L111.2 300.5 L112.5 299.8 L114.0 299.3 L115.4 299.2 L116.7 299.3 L117.9 299.7 L140.0 310.2 L140.9 310.8 L141.5 311.6 L141.7 312.6 L141.5 313.6 L140.9 314.7 L140.1 315.8 L128.3 330.7 L127.3 332.0 L126.1 333.1 L124.8 333.9 L123.5 334.4 L122.2 334.4 L121.1 334.1 L99.5 322.9 L98.6 322.2 L98.0 321.2 L97.7 319.9 L97.7 318.5 L98.1 317.1 L98.8 315.7Z" style="stroke-width:1.20"/>
<path class="l" d="M111.3 304.4 L112.1 303.7 L113.0 303.2 L114.0 302.8 L115.0 302.7 L116.0 302.7 L116.8 303.0 L135.6 312.0 L136.2 312.4 L136.6 313.0 L136.7 313.8 L136.6 314.6 L136.2 315.4 L135.6 316.2 L127.1 327.0 L126.3 327.9 L125.5 328.7 L124.5 329.3 L123.5 329.6 L122.6 329.6 L121.9 329.4 L103.4 319.9 L102.8 319.5 L102.3 318.7 L102.1 317.9 L102.2 316.9 L102.5 315.9 L103.0 314.9Z" style="stroke-width:0.95"/>
<path class="l" d="M112.0 305.6 L112.6 305.0 L113.3 304.6 L114.1 304.2 L114.8 304.1 L115.5 304.1 L116.1 304.3 L134.1 312.9 L134.5 313.3 L134.8 313.7 L134.8 314.3 L134.7 314.9 L134.3 315.6 L133.8 316.3 L126.4 325.7 L125.8 326.4 L125.1 327.0 L124.4 327.5 L123.7 327.8 L123.0 327.8 L122.4 327.7 L104.7 318.7 L104.3 318.3 L104.0 317.8 L103.9 317.1 L104.0 316.3 L104.3 315.5 L104.7 314.8Z" style="stroke-width:0.95"/>
<line class="l" x1="114.0" y1="299.3" x2="113.8" y2="304.8"/>
<line class="l" x1="141.7" y1="312.5" x2="134.2" y2="314.7"/>
<line class="l" x1="97.7" y1="320.0" x2="104.5" y2="316.6"/>
<line class="l" x1="124.7" y1="333.9" x2="124.6" y2="326.8"/>
<path class="l" d="M89.4 333.6 L90.1 332.2 L91.1 331.1 L92.3 330.2 L93.5 329.8 L94.7 329.7 L95.8 330.1 L117.2 341.4 L118.2 342.1 L118.8 343.2 L119.2 344.6 L119.3 346.1 L119.0 347.7 L118.5 349.3 L112.9 367.5 L112.5 368.8 L111.9 369.9 L111.1 370.7 L110.2 371.1 L109.2 371.1 L108.2 370.7 L87.0 358.5 L86.0 357.8 L85.1 356.7 L84.5 355.5 L84.0 354.1 L83.8 352.6 L84.0 351.1Z" style="stroke-width:1.20"/>
<path class="l" d="M91.1 337.5 L91.6 336.5 L92.3 335.7 L93.1 335.1 L93.9 334.7 L94.7 334.7 L95.5 334.9 L113.8 344.7 L114.4 345.2 L114.9 346.0 L115.2 347.0 L115.3 348.1 L115.1 349.2 L114.8 350.4 L110.7 363.6 L110.4 364.5 L109.9 365.4 L109.3 365.9 L108.7 366.2 L107.9 366.3 L107.2 366.0 L89.1 355.7 L88.4 355.2 L87.8 354.4 L87.4 353.5 L87.1 352.5 L87.0 351.4 L87.2 350.3Z" style="stroke-width:0.95"/>
<path class="l" d="M92.0 339.0 L92.4 338.2 L92.9 337.5 L93.4 337.0 L94.1 336.7 L94.7 336.6 L95.2 336.8 L112.7 346.2 L113.1 346.6 L113.5 347.1 L113.7 347.9 L113.7 348.8 L113.6 349.7 L113.3 350.6 L109.7 362.1 L109.5 362.9 L109.1 363.6 L108.7 364.1 L108.2 364.3 L107.6 364.4 L107.1 364.2 L89.8 354.4 L89.3 354.0 L88.9 353.4 L88.6 352.7 L88.4 351.9 L88.4 351.1 L88.5 350.2Z" style="stroke-width:0.95"/>
<line class="l" x1="92.3" y1="330.2" x2="93.4" y2="337.8"/>
<line class="l" x1="119.2" y1="344.5" x2="113.2" y2="348.5"/>
<line class="l" x1="84.5" y1="355.5" x2="88.9" y2="352.2"/>
<line class="l" x1="111.1" y1="370.7" x2="108.6" y2="363.3"/>
<path class="l" d="M83.0 366.9 L83.0 365.9 L83.3 365.1 L83.9 364.5 L84.7 364.3 L85.6 364.4 L86.6 364.8 L107.8 377.1 L108.8 377.8 L109.7 378.9 L110.5 380.1 L111.2 381.4 L111.6 382.7 L111.9 383.9 L115.6 394.7 L116.0 395.3 L116.1 395.6 L115.9 395.7 L115.5 395.5 L114.8 395.1 L113.9 394.6 L92.5 381.8 L91.4 381.1 L90.3 380.4 L89.1 379.6 L88.1 378.8 L87.2 378.1 L86.6 377.4Z" style="stroke-width:1.20"/>
<path class="l" d="M85.9 370.3 L85.9 369.6 L86.1 369.0 L86.4 368.7 L86.9 368.5 L87.6 368.6 L88.2 368.9 L106.3 379.5 L107.1 380.0 L107.7 380.7 L108.3 381.5 L108.8 382.4 L109.2 383.3 L109.4 384.1 L112.1 392.0 L112.4 392.4 L112.4 392.7 L112.3 392.8 L111.9 392.8 L111.4 392.5 L110.8 392.2 L92.6 381.3 L91.8 380.8 L91.0 380.3 L90.2 379.7 L89.5 379.0 L89.0 378.4 L88.6 377.9Z" style="stroke-width:0.95"/>
<path class="l" d="M87.1 371.5 L87.1 371.0 L87.2 370.5 L87.5 370.2 L87.8 370.1 L88.3 370.1 L88.7 370.3 L106.1 380.5 L106.6 380.9 L107.1 381.4 L107.5 382.0 L107.9 382.7 L108.2 383.4 L108.3 384.0 L110.7 390.9 L110.9 391.3 L111.0 391.5 L110.9 391.7 L110.6 391.7 L110.3 391.5 L109.8 391.3 L92.4 380.9 L91.9 380.5 L91.3 380.1 L90.7 379.6 L90.2 379.1 L89.8 378.7 L89.5 378.2Z" style="stroke-width:0.95"/>
<line class="l" x1="83.9" y1="364.5" x2="87.7" y2="370.8"/>
<line class="l" x1="110.5" y1="380.0" x2="107.4" y2="382.4"/>
<line class="l" x1="89.2" y1="379.6" x2="90.7" y2="379.4"/>
<line class="l" x1="115.9" y1="395.7" x2="110.5" y2="391.2"/>
<path class="l" d="M169.2 304.7 L166.9 303.8 L164.3 303.4 L161.5 303.6 L158.5 304.3 L155.4 305.5 L152.1 307.2 L148.8 309.4 L145.4 312.0 L142.1 315.1 L138.7 318.6 L135.4 322.5 L132.2 326.6 L129.2 331.1 L126.3 335.8 L123.7 340.6 L121.2 345.6 L119.0 350.6 L117.1 355.7 L115.5 360.7 L114.3 365.6 L113.3 370.3 L112.7 374.9 L112.5 379.1 L112.6 383.1 L113.0 386.8 L113.9 390.0 L115.0 392.9 L116.5 395.2 L118.3 397.2 L120.3 398.6" />
<path class="l" d="M170.4 305.2 L168.0 304.3 L165.4 303.9 L162.6 304.1 L159.7 304.8 L156.5 306.0 L153.3 307.7 L149.9 309.9 L146.6 312.6 L143.2 315.7 L139.8 319.2 L136.5 323.0 L133.3 327.2 L130.3 331.7 L127.4 336.3 L124.7 341.2 L122.3 346.2 L120.1 351.2 L118.2 356.3 L116.6 361.3 L115.3 366.2 L114.4 370.9 L113.8 375.5 L113.6 379.8 L113.7 383.8 L114.1 387.4 L114.9 390.7 L116.1 393.5 L117.6 395.9 L119.4 397.8 L121.4 399.2" />
<path class="l" d="M129.5 288.5 C127.1 289.6 128.5 288.9 122.3 291.7 C116.1 294.5 117.7 293.2 111.0 296.8 C104.3 300.4 107.2 298.0 102.2 302.6 C97.2 307.2 99.5 304.8 96.0 310.5 C92.5 316.2 94.6 313.1 91.8 319.6 C89.0 326.1 89.9 323.2 87.6 330.0 C85.3 336.8 86.3 332.7 84.8 340.0 C83.3 347.3 83.7 344.0 83.2 352.0 C82.7 360.0 82.6 357.0 83.4 364.0 C84.2 371.0 84.8 370.0 85.5 373.0" style="stroke-width:1.2"/>
<path class="l" d="M124.2 292.7 C120.4 294.4 119.6 294.2 112.9 297.8 C106.2 301.4 109.1 299.0 104.1 303.6 C99.1 308.2 101.4 305.8 97.9 311.5 C94.4 317.2 96.5 314.1 93.7 320.6 C90.9 327.1 91.8 324.2 89.5 331.0 C87.2 337.8 88.2 333.7 86.7 341.0 C85.2 348.3 85.6 345.0 85.1 353.0 C84.6 361.0 84.5 358.0 85.3 365.0 C86.1 372.0 86.7 371.0 87.4 374.0" />
<line class="l" x1="129.1" y1="286.5" x2="170.4" y2="305.2"/>
<line class="l" x1="82.5" y1="375.9" x2="121.4" y2="399.2"/>
<path class="l" d="M272.8 364.0 L260.8 370.3 L258.2 372.3 L255.5 374.0 L252.6 375.5 L249.6 376.7 L246.5 377.6 L243.3 378.3 L240.0 378.7 L236.7 378.9 L233.4 378.8 L230.0 378.3 L226.6 377.7 L223.3 376.7 L219.9 375.5 L216.7 374.1 L213.5 372.4 L210.4 370.4 L207.4 368.2 L204.5 365.8 L201.8 363.2 L199.2 360.5 L196.8 357.5 L194.5 354.4 L192.5 351.1 L190.6 347.7 L189.0 344.2 L187.6 340.7 L186.4 337.0 L185.4 333.3 L184.7 329.6 L184.3 325.9 L184.0 322.2 L184.1 318.5 L184.4 314.8 L184.9 311.3 L185.6 307.8 L186.6 304.5 L187.9 301.2 L189.4 298.1 L191.0 295.2 L192.9 292.5 L195.0 289.9 L197.3 287.5 L199.8 285.4 L202.4 283.5 L205.2 281.8 L208.1 280.4 L211.1 279.3 L214.2 278.4 L226.2 272.1" style="fill:#fff;stroke-width:1.25"/>
<path class="l" d="M266.3 368.2 L263.6 369.8 L260.8 371.2 L257.9 372.4 L254.9 373.3 L251.8 373.9 L248.7 374.3 L245.5 374.5 L242.3 374.4 L239.0 374.0 L235.7 373.4 L232.5 372.5 L229.3 371.4 L226.1 370.1 L223.0 368.5 L220.0 366.7 L217.1 364.7 L214.2 362.4 L211.5 360.0 L209.0 357.4 L206.6 354.6 L204.3 351.7 L202.2 348.6 L200.3 345.4 L198.6 342.1 L197.1 338.7 L195.8 335.2 L194.7 331.7 L193.9 328.1 L193.2 324.5 L192.8 320.9 L192.6 317.3 L192.7 313.8 L193.0 310.3 L193.5 306.9 L194.2 303.5 L195.2 300.3 L196.4 297.1 L197.8 294.1 L199.4 291.3 L201.1 288.6 L203.1 286.1 L205.3 283.7 L207.6 281.6 L210.1 279.7 L212.7 278.0 L215.5 276.6 L218.4 275.4 L221.3 274.4" style="stroke-width:1.25"/>
<path class="l" d="M281.0 301.7 L283.8 308.0 L285.9 314.5 L287.3 321.1 L287.9 327.7 L287.8 334.3 L286.8 340.6 L285.1 346.6 L282.6 352.2 L279.5 357.3 L275.7 361.8 L271.3 365.6 L266.4 368.7 L261.1 371.0 L255.5 372.4 L249.6 373.0 L243.7 372.7 L237.6 371.5 L231.7 369.5 L225.9 366.7 L220.5 363.2 L215.3 358.9 L210.7 354.0 L206.6 348.5 L203.0 342.7 L200.2 336.4 L198.1 329.9 L196.7 323.3 L196.1 316.7 L196.2 310.1 L197.2 303.8 L198.9 297.8 L201.4 292.2 L204.5 287.1 L208.3 282.6 L212.7 278.8 L217.6 275.7 L222.9 273.4 L228.5 272.0 L234.4 271.4 L240.3 271.7 L246.4 272.9 L252.3 274.9 L258.1 277.7 L263.5 281.2 L268.7 285.5 L273.3 290.4 L277.4 295.9 L281.0 301.7Z" style="fill:#fff"/>
<path class="l" d="M273.5 305.5 L276.1 311.0 L278.0 316.8 L279.3 322.6 L280.0 328.5 L279.9 334.2 L279.2 339.8 L277.8 345.0 L275.8 349.9 L273.2 354.4 L270.0 358.3 L266.3 361.5 L262.2 364.1 L257.7 366.1 L252.9 367.2 L247.9 367.6 L242.8 367.3 L237.6 366.2 L232.5 364.3 L227.5 361.7 L222.8 358.5 L218.3 354.6 L214.2 350.2 L210.6 345.4 L207.5 340.1 L204.9 334.6 L203.0 328.8 L201.7 323.0 L201.0 317.1 L201.1 311.4 L201.8 305.8 L203.2 300.6 L205.2 295.7 L207.8 291.2 L211.0 287.3 L214.7 284.1 L218.8 281.5 L223.3 279.5 L228.1 278.4 L233.1 278.0 L238.2 278.3 L243.4 279.4 L248.5 281.3 L253.5 283.9 L258.2 287.1 L262.7 291.0 L266.8 295.4 L270.4 300.2 L273.5 305.5Z" style="stroke-width:1.15"/>
<path class="l" d="M271.8 306.2 L274.3 311.5 L276.2 317.0 L277.4 322.6 L278.0 328.2 L278.0 333.8 L277.4 339.1 L276.1 344.1 L274.2 348.8 L271.7 353.0 L268.7 356.7 L265.1 359.9 L261.2 362.4 L256.9 364.2 L252.4 365.3 L247.6 365.7 L242.7 365.3 L237.8 364.2 L232.9 362.4 L228.1 359.9 L223.6 356.8 L219.3 353.1 L215.4 348.9 L212.0 344.2 L209.0 339.2 L206.5 333.9 L204.6 328.4 L203.4 322.8 L202.8 317.2 L202.8 311.6 L203.4 306.3 L204.7 301.3 L206.6 296.6 L209.1 292.4 L212.1 288.7 L215.7 285.5 L219.6 283.0 L223.9 281.2 L228.4 280.1 L233.2 279.7 L238.1 280.1 L243.0 281.2 L247.9 283.0 L252.7 285.5 L257.2 288.6 L261.5 292.3 L265.4 296.5 L268.8 301.2 L271.8 306.2Z" style="stroke-width:1.15"/>
<line class="l" x1="171.0" y1="306.0" x2="194.5" y2="294.0"/>
<path class="l" d="M131.3 333.5 C130.0 336.7 130.0 335.8 127.5 343.0 C125.0 350.2 125.7 346.7 123.8 355.0 C121.9 363.3 122.7 359.3 121.8 368.0 C120.9 376.7 121.0 373.0 121.2 381.0 C121.4 389.0 121.2 386.2 122.5 392.0 C123.8 397.8 122.7 395.5 125.2 398.4 C127.7 401.3 126.5 399.9 130.0 400.6 C133.5 401.3 131.7 401.0 135.7 400.4 C139.7 399.8 139.8 399.3 141.9 398.7" style="stroke-width:1.2"/>
<path class="l" d="M131.8 349.0 C130.7 352.0 129.9 351.0 128.4 358.0 C126.9 365.0 127.4 362.4 127.4 370.0 C127.4 377.6 127.4 375.1 128.4 380.9 C129.4 386.7 128.8 383.7 130.5 387.5 C132.2 391.3 131.4 389.6 133.6 392.4 C135.8 395.2 134.6 394.1 137.0 396.0 C139.4 397.9 139.6 397.4 140.9 398.1" style="stroke-width:1.2"/>
<path class="l" d="M170.0 306.8 C165.4 308.9 165.1 307.0 156.2 313.0 C147.3 319.0 149.9 317.3 143.2 324.8 C136.5 332.3 139.5 327.7 136.2 335.6 C132.9 343.5 134.7 340.5 133.4 348.6 C132.1 356.7 131.6 351.7 132.4 360.0 C133.2 368.3 132.5 365.6 135.7 373.6 C138.9 381.6 137.0 377.4 141.9 384.0 C146.8 390.6 145.4 388.3 150.3 393.4 C155.2 398.5 154.5 397.3 156.6 399.2" />
<path class="l" d="M156.6 399.2 C157.1 401.1 156.9 401.2 158.1 404.9 C159.3 408.6 159.5 408.4 160.2 410.2" />
<path class="l" d="M141.9 398.7 L151.3 403.9 L160.2 410.2" />
<path class="l" d="M160.2 410.2 L180.0 420.6 L200.0 432.0 L214.5 440.4" />
<path class="l" d="M156.6 399.2 C158.3 398.0 156.7 397.5 161.8 395.5 C166.9 393.5 163.9 395.0 172.0 393.2 C180.1 391.4 175.0 392.4 186.0 390.0 C197.0 387.6 191.4 388.8 205.0 386.0 C218.6 383.2 219.6 383.1 226.9 381.6" />
<path class="l" d="M158.1 400.2 C162.7 398.7 162.7 398.3 172.0 395.8 C181.3 393.3 175.0 394.5 186.0 392.6 C197.0 390.7 192.2 391.7 205.0 390.2 C217.8 388.7 218.0 388.9 224.5 388.2" />
<path class="l" d="M226.9 381.6 C228.4 381.3 229.5 379.8 231.4 380.6 C233.3 381.4 232.9 381.6 232.6 384.0 C232.3 386.4 233.1 386.4 230.4 387.8 C227.7 389.2 226.5 388.1 224.5 388.2" />
<path class="l" d="M227.5 381.8 C227.1 382.9 227.0 382.9 226.2 385.0 C225.4 387.1 225.5 387.0 225.2 388.0" />
<path class="l" d="M140.9 373.1 L147.2 376.7 L155.5 380.9 L163.4 385.6" style="stroke-width:1.5"/>
<path class="l" d="M140.9 373.1 L141.4 377.2 L146.1 379.9 L154.5 382.5 L157.6 385.1 L163.4 385.6" />
<path class="l" d="M206.7 413.7 L207.5 415.3 L208.0 417.0 L208.5 418.7 L208.7 420.4 L208.8 422.0 L208.7 423.6 L208.4 425.0 L207.9 426.4 L207.3 427.6 L206.5 428.7 L205.6 429.6 L204.5 430.2 L203.4 430.7 L202.1 431.0 L200.8 431.0 L199.4 430.9 L198.0 430.5 L196.7 429.9 L195.3 429.1 L194.0 428.1 L192.8 426.9 L191.6 425.6 L190.6 424.2 L189.7 422.7 L188.9 421.1 L188.4 419.4 L187.9 417.7 L187.7 416.0 L187.6 414.4 L187.7 412.8 L188.0 411.4 L188.5 410.0 L189.1 408.8 L189.9 407.7 L190.8 406.8 L191.9 406.2 L193.0 405.7 L194.3 405.4 L195.6 405.4 L197.0 405.5 L198.4 405.9 L199.7 406.5 L201.1 407.3 L202.4 408.3 L203.6 409.5 L204.8 410.8 L205.8 412.2 L206.7 413.7Z" />
<path class="l" d="M205.9 414.2 L206.5 415.6 L207.1 417.1 L207.4 418.5 L207.7 420.0 L207.8 421.4 L207.7 422.8 L207.4 424.1 L207.1 425.3 L206.5 426.4 L205.9 427.3 L205.1 428.0 L204.2 428.6 L203.2 429.0 L202.1 429.2 L201.0 429.3 L199.8 429.1 L198.6 428.7 L197.4 428.2 L196.2 427.5 L195.1 426.6 L194.0 425.6 L193.0 424.4 L192.1 423.2 L191.3 421.8 L190.7 420.4 L190.1 418.9 L189.8 417.5 L189.5 416.0 L189.4 414.6 L189.5 413.2 L189.8 411.9 L190.1 410.7 L190.7 409.6 L191.3 408.7 L192.1 408.0 L193.0 407.4 L194.0 407.0 L195.1 406.8 L196.2 406.7 L197.4 406.9 L198.6 407.3 L199.8 407.8 L201.0 408.5 L202.1 409.4 L203.2 410.4 L204.2 411.6 L205.1 412.8 L205.9 414.2Z" />
<path class="l" d="M205.1 414.7 L205.6 415.8 L206.0 417.0 L206.3 418.1 L206.5 419.3 L206.6 420.4 L206.6 421.4 L206.4 422.4 L206.1 423.4 L205.7 424.2 L205.2 424.9 L204.6 425.5 L204.0 425.9 L203.2 426.2 L202.4 426.4 L201.5 426.4 L200.6 426.2 L199.7 426.0 L198.8 425.5 L197.9 425.0 L197.0 424.3 L196.2 423.4 L195.4 422.5 L194.7 421.5 L194.1 420.5 L193.6 419.4 L193.2 418.2 L192.9 417.1 L192.7 415.9 L192.6 414.8 L192.6 413.8 L192.8 412.8 L193.1 411.8 L193.5 411.0 L194.0 410.3 L194.6 409.7 L195.2 409.3 L196.0 409.0 L196.8 408.8 L197.7 408.8 L198.6 409.0 L199.5 409.2 L200.4 409.7 L201.3 410.2 L202.2 410.9 L203.0 411.8 L203.8 412.7 L204.5 413.7 L205.1 414.7Z" />
<path class="l" d="M205.8 422.4 L205.6 422.9 L205.4 423.3 L205.1 423.7 L204.8 424.0 L204.4 424.3 L204.0 424.6 L203.6 424.7 L203.2 424.9 L202.7 424.9 L202.2 424.9 L201.7 424.9 L201.2 424.8 L200.7 424.6 L200.2 424.4 L199.6 424.1 L199.1 423.8 L198.6 423.4 L198.1 423.0 L197.6 422.6 L197.2 422.1 L196.7 421.5 L196.3 420.9 L195.9 420.3 L195.6 419.7 L195.3 419.1 L195.0 418.4 L194.8 417.8 L194.6 417.1 L194.4 416.4 L194.3 415.8 L194.2 415.1 L194.2 414.5 L194.2 413.9 L194.3 413.3 L194.4 412.7 L194.6 412.2 L194.8 411.7 L195.0 411.3 L195.3 410.9 L195.6 410.6 L196.0 410.3 L196.4 410.0 L196.8 409.9 L197.2 409.7 L197.7 409.7 L198.2 409.7 L198.7 409.7 L199.2 409.8" />
<text class="e" transform="translate(186.2 333.0) rotate(52.9) skewX(-14) scale(1.36 1)" >DVGW</text>
<text class="e" transform="translate(176.2 338.4) rotate(52.9) skewX(-14) scale(1.36 1)" >DN 50</text>
<text class="e" transform="translate(166.8 352.2) rotate(52.9) skewX(-14) scale(1.36 1)" >DIN</text>
<path class="l" d="M230.0 381.0 C227.0 385.7 225.8 383.7 221.0 395.0 C216.2 406.3 217.7 402.3 215.5 415.0 C213.3 427.7 213.3 421.7 214.5 433.0 C215.7 444.3 214.8 439.7 219.0 449.0 C223.2 458.3 219.7 453.0 227.0 461.0 C234.3 469.0 236.3 469.0 241.0 473.0" />
<path class="l" d="M232.2 381.6 C229.2 386.3 228.0 384.3 223.2 395.6 C218.4 406.9 219.9 402.9 217.7 415.6 C215.5 428.3 215.5 422.3 216.7 433.6 C217.9 444.9 217.0 440.3 221.2 449.6 C225.4 458.9 221.9 453.6 229.2 461.6 C236.5 469.6 238.5 469.6 243.2 473.6" />
<path class="l" d="M297.7 378.4 C293.2 379.8 292.3 379.0 284.3 382.6 C276.3 386.2 280.8 383.4 273.6 389.2 C266.4 395.0 269.5 391.9 262.8 399.9 C256.1 407.9 258.8 403.9 253.4 413.3 C248.0 422.7 250.3 417.5 246.7 428.1 C243.1 438.7 243.7 432.7 242.5 445.0 C241.3 457.3 241.2 454.3 243.0 465.0 C244.8 475.7 246.3 473.0 248.0 477.0" />
<path class="l" d="M282.3 381.4 C278.7 383.6 278.8 382.2 271.6 388.0 C264.4 393.8 267.5 390.7 260.8 398.7 C254.1 406.7 256.8 402.7 251.4 412.1 C246.0 421.5 248.3 416.3 244.7 426.9 C241.1 437.5 241.7 431.5 240.5 443.8 C239.3 456.1 239.2 453.1 241.0 463.8 C242.8 474.5 244.3 471.8 246.0 475.8" />
<path class="l" d="M280.3 380.2 C276.7 382.4 276.8 381.0 269.6 386.8 C262.4 392.6 265.5 389.5 258.8 397.5 C252.1 405.5 254.8 401.5 249.4 410.9 C244.0 420.3 246.3 415.1 242.7 425.7 C239.1 436.3 239.7 430.3 238.5 442.6 C237.3 454.9 237.2 451.9 239.0 462.6 C240.8 473.3 242.3 470.6 244.0 474.6" />
<path class="l" d="M226.5 397.4 C229.4 397.4 231.9 400.0 236.0 402.0 C240.1 404.0 244.9 404.1 247.0 407.3 C249.1 410.5 247.3 413.1 246.6 418.0 C245.9 422.9 244.8 427.4 243.6 432.0 C242.4 436.6 242.0 437.8 240.6 441.0 C239.2 444.2 239.4 447.7 236.5 448.0 C233.6 448.3 229.9 444.9 226.0 442.5 C222.1 440.1 219.1 438.9 217.0 436.0 C214.9 433.1 215.3 432.8 215.5 428.0 C215.7 423.2 216.6 417.2 217.8 412.0 C219.0 406.8 219.8 404.9 221.5 402.0 C223.2 399.1 223.6 397.4 226.5 397.4Z" style="stroke-width:1.2"/>
<path class="l" d="M223.4 406.6 C225.5 406.8 228.5 408.9 232.0 410.4 C235.5 411.9 239.0 411.9 241.0 414.0 C243.0 416.1 242.2 417.4 242.0 421.0 C241.8 424.6 240.9 428.2 240.0 432.0 C239.1 435.8 238.5 437.5 237.5 440.0 C236.5 442.5 237.2 444.6 235.0 444.5 C232.8 444.4 229.6 441.6 226.5 439.5 C223.4 437.4 221.1 436.5 219.5 434.0 C217.9 431.5 218.4 430.8 218.5 427.0 C218.6 423.2 219.6 418.5 220.2 415.0 C220.8 411.5 220.9 411.2 221.5 409.5 C222.1 407.8 221.3 406.4 223.4 406.6Z" style="stroke-width:1.2"/>
<path class="l" d="M233.0 386.6 C236.0 385.4 238.9 385.3 243.0 384.5 C247.1 383.7 249.7 382.4 253.5 382.8 C257.3 383.2 259.2 384.8 262.0 386.5 C264.8 388.2 266.9 389.6 267.5 391.5 C268.1 393.4 266.3 394.3 265.0 396.0 C263.7 397.7 263.1 398.1 261.0 399.8 C258.9 401.5 256.8 403.4 254.6 404.4 C252.4 405.4 253.1 405.9 250.2 405.0 C247.3 404.1 243.9 402.0 240.0 400.0 C236.1 398.0 233.2 396.5 230.8 395.2 C228.4 393.9 228.3 394.4 227.8 393.5 C227.3 392.6 227.2 391.9 228.2 390.5 C229.2 389.1 230.0 387.8 233.0 386.6Z" style="stroke-width:1.2"/>
<path class="l" d="M234.5 388.6 C237.0 387.7 239.9 387.4 243.5 386.8 C247.1 386.2 249.3 385.3 252.5 385.6 C255.7 385.9 257.2 387.2 259.5 388.5 C261.8 389.8 263.5 390.9 264.0 392.3 C264.5 393.7 263.0 394.1 261.8 395.5 C260.6 396.9 259.5 398.1 257.8 399.4 C256.1 400.7 254.9 401.6 253.4 402.2 C251.9 402.8 253.0 403.5 250.4 402.6 C247.8 401.7 244.2 399.6 240.6 397.8 C237.0 396.0 234.3 394.9 232.4 393.6 C230.5 392.3 230.8 392.2 231.2 391.2 C231.6 390.2 232.0 389.5 234.5 388.6Z" style="stroke-width:1.2"/>
<path class="l" d="M252.4 375.8 C253.5 378.0 251.6 378.7 255.6 382.3 C259.6 385.9 259.6 386.1 264.3 386.6 C269.0 387.1 266.8 384.4 269.7 383.9 C272.6 383.4 272.5 383.0 272.9 385.0 C273.3 387.0 272.6 387.5 270.8 389.8 C269.0 392.1 268.6 391.3 267.5 392.0" />
<path class="l" d="M254.6 375.2 C255.5 377.1 254.1 377.7 257.4 380.8 C260.7 383.9 260.4 384.1 264.4 384.4 C268.4 384.7 266.1 382.1 269.5 381.8 C272.9 381.5 273.4 381.0 274.6 383.4 C275.8 385.8 273.5 387.1 273.0 389.0" />
<path class="l" d="M234.0 380.2 L252.4 375.8" />
<path class="l" d="M235.2 385.4 L253.5 382.2" />
<path class="l" d="M236.2 380.0 L237.3 385.0" />
<path class="l" d="M238.0 379.6 L239.0 384.7" />
<path class="l" d="M262.0 378.0 L261.9 378.4 L261.7 378.7 L261.5 378.9 L261.4 379.2 L261.2 379.4 L260.9 379.6 L260.7 379.8 L260.5 379.9 L260.3 380.0 L260.0 380.0 L259.8 380.0 L259.6 379.9 L259.4 379.9 L259.3 379.7 L259.1 379.5 L259.0 379.3 L258.9 379.1 L258.8 378.8 L258.8 378.6 L258.8 378.2 L258.8 377.9 L258.8 377.6 L258.9 377.3 L259.0 377.0 L259.1 376.6 L259.3 376.3 L259.5 376.1 L259.6 375.8 L259.8 375.6 L260.1 375.4 L260.3 375.2 L260.5 375.1 L260.7 375.0 L261.0 375.0 L261.2 375.0 L261.4 375.1 L261.6 375.1 L261.7 375.3 L261.9 375.5 L262.0 375.7 L262.1 375.9 L262.2 376.2 L262.2 376.4 L262.2 376.8 L262.2 377.1 L262.2 377.4 L262.1 377.7 L262.0 378.0Z" />
<path class="l" d="M222.6 402.8 C226.1 404.3 225.7 404.3 233.0 407.2 C240.3 410.1 240.6 410.1 244.4 411.6" />
<path class="l" d="M268.5 369.8 C268.8 368.9 271.4 368.6 273.5 368.2 C275.6 367.8 276.1 366.7 279.0 367.6 C281.9 368.5 284.3 370.5 288.0 372.6 C291.7 374.7 296.4 376.7 297.5 378.2 C298.6 379.7 295.1 379.5 293.5 380.0 C291.9 380.5 292.1 381.5 289.5 380.8 C286.9 380.1 284.0 378.2 280.5 376.5 C277.0 374.8 274.4 373.8 272.0 372.5 C269.6 371.2 268.2 370.7 268.5 369.8Z" style="stroke-width:1.2"/>
<path class="l" d="M272.4 369.0 L294.5 380.3" style="stroke-width:1.5"/>
<path class="l" d="M217.0 439.5 C218.2 438.8 222.4 443.1 226.0 445.5 C229.6 447.9 232.4 448.4 235.0 451.5 C237.6 454.6 237.8 457.1 239.0 461.0 C240.2 464.9 242.2 470.1 241.0 471.0 C239.8 471.9 236.2 467.9 233.0 465.5 C229.8 463.1 227.6 462.3 225.0 459.0 C222.4 455.7 221.6 452.9 220.0 449.0 C218.4 445.1 215.8 440.2 217.0 439.5Z" style="stroke-width:1.2"/>
<path class="l" d="M219.5 443.5 C220.4 443.1 223.8 446.1 226.5 448.0 C229.2 449.9 231.1 450.6 233.0 453.0 C234.9 455.4 235.1 457.4 236.0 460.0 C236.9 462.6 238.3 465.6 237.5 466.0 C236.7 466.4 234.2 463.7 232.0 462.0 C229.8 460.3 228.5 459.9 226.5 457.5 C224.5 455.1 223.4 452.8 222.0 450.0 C220.6 447.2 218.6 443.9 219.5 443.5Z" style="stroke-width:1.2"/>
<path class="l" d="M297.7 378.4 L309.8 387.1 L325.9 397.2 L328.6 400.6 L328.6 405.5" />
<path class="l" d="M268.9 397.9 L275.6 403.9" />
<path class="l" d="M275.6 403.9 C278.5 402.6 277.4 403.5 284.3 399.9 C291.2 396.3 289.7 397.5 296.4 393.2 C303.1 388.9 301.0 389.8 304.4 387.1 C307.8 384.4 305.8 385.7 306.5 385.0" />
<path class="l" d="M275.6 403.9 C274.5 407.9 275.1 408.4 272.2 416.0 C269.3 423.6 270.8 420.0 266.8 426.7 C262.8 433.4 264.1 431.6 260.1 436.1 C256.1 440.6 256.6 438.8 254.8 440.2" />
<path class="l" d="M246.7 436.1 L254.8 440.2" />
<path class="l" d="M254.8 440.2 C254.4 444.1 253.8 443.4 253.5 452.0 C253.2 460.6 253.0 457.3 254.0 466.0 C255.0 474.7 255.2 472.7 256.5 478.0 C257.8 483.3 257.5 480.7 258.0 482.0" />
<path class="l" d="M282.0 486.5 C278.7 485.2 277.3 485.3 272.0 482.5 C266.7 479.7 269.4 482.2 266.0 478.0 C262.6 473.8 263.6 476.0 261.8 470.0 C260.0 464.0 260.5 466.3 260.6 460.0 C260.7 453.7 260.5 457.2 262.0 451.0 C263.5 444.8 262.8 448.7 265.0 441.5 C267.2 434.3 265.1 437.9 268.6 429.4 C272.1 420.9 269.7 424.6 275.4 416.0 C281.1 407.4 278.2 409.9 285.6 403.6 C293.0 397.3 290.2 400.1 297.7 397.2 C305.2 394.3 301.9 395.4 308.0 394.8 C314.1 394.2 311.7 394.4 316.0 395.5 C320.3 396.6 319.3 397.2 321.0 398.0" />
<path class="l" d="M286.0 484.5 C284.0 483.3 284.3 484.2 280.0 481.0 C275.7 477.8 276.6 479.7 273.0 475.0 C269.4 470.3 270.7 473.0 269.2 467.0 C267.7 461.0 267.9 464.0 268.5 457.0 C269.1 450.0 268.7 453.7 271.0 446.0 C273.3 438.3 272.0 442.2 275.3 434.0 C278.6 425.8 275.3 429.9 281.0 421.4 C286.7 412.9 284.5 415.1 292.3 408.4 C300.1 401.7 296.8 404.2 304.4 401.4 C312.0 398.6 308.9 399.1 315.2 399.9 C321.5 400.7 320.5 402.6 323.2 403.9" />
<path class="l" d="M246.0 472.0 L258.0 479.5 L276.0 488.5 L282.0 486.5" />
<path class="l" d="M325.3 405.0 L330.6 409.0" />
<path class="l" d="M314.8 503.0 L311.7 503.3 L308.7 503.3 L305.9 502.9 L303.1 502.2 L300.5 501.2 L298.1 499.8 L295.8 498.2 L293.8 496.2 L291.9 493.9 L290.3 491.4 L289.0 488.6 L287.8 485.6 L287.0 482.3 L286.4 478.9 L286.0 475.3 L285.9 471.6 L286.1 467.7 L286.6 463.8 L287.3 459.8 L288.3 455.8 L289.6 451.8 L291.0 447.8 L292.8 443.8 L294.7 440.0 L296.9 436.3 L299.2 432.7 L301.7 429.2 L304.4 426.0 L307.2 423.0 L310.1 420.2 L313.1 417.7 L316.2 415.4 L319.4 413.4 L322.5 411.8 L325.7 410.4 L328.9 409.4 L332.0 408.7 L335.1 408.3 L338.1 408.3 L340.9 408.7 L343.7 409.3 L346.3 410.3 L348.8 411.7 L351.0 413.3 L353.1 415.2 L355.0 417.5 L356.6 420.0 L358.0 422.8" />
<path class="t" d="M317.0 500.2 L314.7 500.2 L312.6 499.9 L310.5 499.4 L308.6 498.6 L306.7 497.6 L305.0 496.4 L303.5 494.9 L302.1 493.3 L300.9 491.4 L299.8 489.4 L298.9 487.2 L298.2 484.8 L297.6 482.2 L297.3 479.5 L297.1 476.7 L297.1 473.8 L297.3 470.8 L297.7 467.8 L298.3 464.7 L299.1 461.5 L300.0 458.3 L301.2 455.2 L302.4 452.1 L303.9 449.0 L305.5 445.9 L307.2 443.0 L309.1 440.1 L311.0 437.3 L313.1 434.7 L315.3 432.2 L317.6 429.9 L319.9 427.8 L322.3 425.8 L324.7 424.0 L327.1 422.4 L329.6 421.1 L332.1 420.0 L334.5 419.1 L336.9 418.4 L339.3 418.0 L341.6 417.8 L343.8 417.8 L346.0 418.1 L348.0 418.7 L350.0 419.5 L351.8 420.5 L353.5 421.7 L355.0 423.2" />
<path class="l" d="M364.9 479.6 L361.8 484.5 L358.4 489.1 L354.7 493.2 L350.8 496.9 L346.7 500.1 L342.5 502.7 L338.3 504.7 L334.2 506.0 L330.2 506.7 L326.4 506.6 L322.8 505.9 L319.6 504.5 L316.8 502.4 L314.3 499.7 L312.4 496.4 L311.0 492.6 L310.0 488.4 L309.7 483.8 L309.8 478.9 L310.5 473.7 L311.8 468.5 L313.6 463.2 L315.8 457.9 L318.5 452.8 L321.6 447.9 L325.0 443.3 L328.7 439.2 L332.6 435.5 L336.7 432.3 L340.9 429.7 L345.1 427.7 L349.2 426.4 L353.2 425.7 L357.0 425.8 L360.6 426.5 L363.8 427.9 L366.6 430.0 L369.1 432.7 L371.0 436.0 L372.4 439.8 L373.4 444.0 L373.7 448.6 L373.6 453.5 L372.9 458.7 L371.6 463.9 L369.8 469.2 L367.6 474.5 L364.9 479.6Z" style="fill:#fff"/>
<path class="l" d="M363.9 478.7 L360.9 483.4 L357.6 487.8 L354.1 491.9 L350.3 495.4 L346.4 498.5 L342.4 501.1 L338.4 503.0 L334.5 504.3 L330.6 504.9 L327.0 504.9 L323.7 504.2 L320.6 502.9 L317.9 500.9 L315.6 498.3 L313.8 495.2 L312.5 491.6 L311.6 487.5 L311.3 483.1 L311.5 478.4 L312.2 473.4 L313.4 468.4 L315.1 463.3 L317.3 458.2 L319.9 453.3 L322.9 448.6 L326.2 444.2 L329.7 440.1 L333.5 436.6 L337.4 433.5 L341.4 430.9 L345.4 429.0 L349.3 427.7 L353.2 427.1 L356.8 427.1 L360.1 427.8 L363.2 429.1 L365.9 431.1 L368.2 433.7 L370.0 436.8 L371.3 440.4 L372.2 444.5 L372.5 448.9 L372.3 453.6 L371.6 458.6 L370.4 463.6 L368.7 468.7 L366.5 473.8 L363.9 478.7Z" />
<path class="t" d="M353.8 429.3 L354.8 430.4 L355.6 431.6 L356.3 432.9 L357.0 434.3 L357.5 435.9 L358.0 437.5 L358.3 439.2 L358.6 441.0 L358.7 442.8 L358.7 444.8 L358.7 446.8 L358.5 448.8 L358.2 450.9 L357.9 453.0 L357.4 455.2 L356.8 457.4 L356.2 459.6 L355.4 461.8 L354.6 464.0 L353.6 466.1 L352.6 468.3 L351.5 470.4 L350.3 472.5 L349.1 474.6 L347.7 476.6 L346.4 478.6 L344.9 480.5 L343.4 482.3 L341.9 484.0 L340.3 485.7 L338.7 487.2 L337.1 488.7 L335.4 490.0 L333.7 491.3 L332.0 492.4 L330.3 493.4 L328.6 494.3 L327.0 495.1 L325.3 495.7 L323.6 496.2 L322.0 496.6 L320.4 496.9 L318.9 497.0 L317.4 497.0 L315.9 496.8 L314.5 496.5 L313.2 496.1 L311.9 495.6" />
<path class="l" d="M352.6 430.4 L353.3 431.5 L353.9 432.8 L354.4 434.1 L354.9 435.5 L355.2 437.0 L355.5 438.6 L355.7 440.2 L355.8 441.9 L355.9 443.6 L355.8 445.4 L355.7 447.3 L355.4 449.1 L355.1 451.1 L354.7 453.0 L354.3 455.0 L353.7 456.9 L353.1 458.9 L352.3 460.9 L351.6 462.9 L350.7 464.9 L349.8 466.8 L348.8 468.8 L347.7 470.7 L346.6 472.6 L345.4 474.4 L344.2 476.2 L342.9 477.9 L341.6 479.6 L340.2 481.2 L338.9 482.8 L337.4 484.3 L336.0 485.7 L334.5 487.0 L333.0 488.2 L331.5 489.4 L329.9 490.4 L328.4 491.4 L326.9 492.2 L325.4 493.0 L323.9 493.7 L322.4 494.2 L320.9 494.6 L319.4 495.0 L318.0 495.2 L316.6 495.3 L315.3 495.3 L314.0 495.2 L312.7 495.0" />
<path class="l" d="M351.7 430.6 L352.3 431.8 L352.8 433.0 L353.3 434.4 L353.7 435.8 L354.0 437.3 L354.2 438.8 L354.4 440.4 L354.5 442.1 L354.5 443.8 L354.4 445.5 L354.2 447.3 L353.9 449.2 L353.6 451.0 L353.2 452.9 L352.7 454.8 L352.2 456.7 L351.5 458.6 L350.8 460.6 L350.1 462.5 L349.2 464.4 L348.3 466.3 L347.3 468.2 L346.3 470.0 L345.2 471.8 L344.1 473.6 L342.9 475.4 L341.7 477.0 L340.4 478.7 L339.1 480.3 L337.7 481.8 L336.4 483.2 L335.0 484.6 L333.5 485.9 L332.1 487.1 L330.6 488.3 L329.2 489.3 L327.7 490.3 L326.2 491.1 L324.7 491.9 L323.3 492.6 L321.8 493.2 L320.4 493.7 L319.0 494.0 L317.6 494.3 L316.2 494.5 L314.9 494.5 L313.6 494.5 L312.3 494.3" />
<path class="l" d="M350.7 430.9 L351.3 432.1 L351.8 433.3 L352.2 434.7 L352.5 436.1 L352.8 437.5 L352.9 439.0 L353.0 440.6 L353.1 442.2 L353.0 443.9 L352.9 445.6 L352.7 447.4 L352.5 449.2 L352.1 451.0 L351.7 452.8 L351.2 454.6 L350.6 456.5 L350.0 458.4 L349.3 460.2 L348.6 462.1 L347.7 463.9 L346.9 465.8 L345.9 467.6 L344.9 469.4 L343.9 471.1 L342.8 472.9 L341.6 474.5 L340.4 476.2 L339.2 477.8 L337.9 479.3 L336.6 480.8 L335.3 482.2 L334.0 483.5 L332.6 484.8 L331.2 486.0 L329.8 487.2 L328.4 488.2 L326.9 489.2 L325.5 490.0 L324.1 490.8 L322.7 491.5 L321.3 492.1 L319.9 492.6 L318.5 493.0 L317.1 493.4 L315.8 493.6 L314.5 493.7 L313.2 493.7 L312.0 493.6" />
<path class="l" d="M155.2 477.3 C155.3 478.0 155.2 479.9 155.8 481.5 C156.4 483.1 156.4 485.3 158.6 486.9 C160.8 488.4 165.4 490.4 168.8 490.8 C172.2 491.2 176.3 490.4 178.8 489.1 C181.3 487.8 183.1 484.7 184.0 483.1 C184.9 481.5 184.7 480.6 184.2 479.3 C183.8 478.0 181.8 475.8 181.3 475.1" style="fill:#fff"/>
<path class="l" d="M155.2 477.3 C155.9 478.5 156.1 481.5 158.8 483.5 C161.5 485.5 164.8 487.1 168.8 487.5 C172.8 487.9 175.7 487.3 178.8 485.7 C181.9 484.1 183.1 480.6 184.2 479.3" />
<line class="l" x1="158.6" y1="486.9" x2="158.8" y2="483.5"/>
<line class="l" x1="168.8" y1="490.8" x2="168.8" y2="487.5"/>
<line class="l" x1="178.8" y1="489.1" x2="178.8" y2="485.7"/>
<path class="l" d="M157.1 481.9 L156.5 481.3 L156.1 480.7 L155.7 480.1 L155.5 479.5 L155.3 478.9 L155.3 478.3 L155.4 477.7 L155.6 477.1 L155.9 476.6 L156.3 476.0 L156.9 475.5 L157.5 475.0 L158.2 474.5 L159.0 474.0 L159.9 473.7 L160.8 473.3 L161.9 473.0 L162.9 472.7 L164.1 472.5 L165.3 472.3 L166.5 472.2 L167.7 472.2 L169.0 472.2 L170.2 472.2 L171.5 472.3 L172.7 472.5 L173.9 472.7 L175.1 472.9 L176.2 473.2 L177.3 473.6 L178.3 474.0 L179.3 474.4 L180.2 474.9 L181.0 475.4 L181.7 475.9 L182.3 476.5 L182.8 477.0 L183.3 477.6 L183.6 478.2 L183.8 478.8 L183.9 479.5 L183.9 480.1 L183.7 480.7 L183.5 481.2 L183.2 481.8 L182.7 482.4 L182.2 482.9 L181.5 483.4" />
<path class="l" d="M180.1 479.4 L180.0 479.8 L180.0 480.2 L179.8 480.5 L179.7 480.8 L179.4 481.2 L179.2 481.5 L178.9 481.8 L178.6 482.1 L178.2 482.4 L177.8 482.7 L177.3 482.9 L176.9 483.2 L176.4 483.4 L175.8 483.6 L175.3 483.8 L174.7 483.9 L174.1 484.1 L173.5 484.2 L172.8 484.3 L172.2 484.3 L171.5 484.4 L170.9 484.4 L170.2 484.4 L169.5 484.4 L168.8 484.3 L168.2 484.3 L167.5 484.2 L166.9 484.1 L166.2 483.9 L165.6 483.8 L165.0 483.6 L164.4 483.4 L163.8 483.2 L163.3 482.9 L162.8 482.7 L162.3 482.4 L161.9 482.1 L161.5 481.8 L161.1 481.5 L160.7 481.2 L160.4 480.8 L160.2 480.5 L160.0 480.2 L159.8 479.8 L159.7 479.4 L159.6 479.1 L159.5 478.7 L159.5 478.4 L159.5 472.4 L159.6 472.0 L159.6 471.6 L159.8 471.3 L159.9 471.0 L160.2 470.6 L160.4 470.3 L160.7 470.0 L161.0 469.7 L161.4 469.4 L161.8 469.1 L162.3 468.9 L162.7 468.6 L163.2 468.4 L163.8 468.2 L164.3 468.0 L164.9 467.9 L165.5 467.7 L166.1 467.6 L166.8 467.5 L167.4 467.5 L168.1 467.4 L168.7 467.4 L169.4 467.4 L170.1 467.4 L170.8 467.5 L171.4 467.5 L172.1 467.6 L172.7 467.7 L173.4 467.9 L174.0 468.0 L174.6 468.2 L175.2 468.4 L175.8 468.6 L176.3 468.9 L176.8 469.1 L177.3 469.4 L177.7 469.7 L178.1 470.0 L178.5 470.3 L178.9 470.6 L179.2 471.0 L179.4 471.3 L179.6 471.6 L179.8 472.0 L179.9 472.4 L180.0 472.7 L180.1 473.1 L180.1 473.4Z" style="fill:#fff"/>
<path class="l" d="M180.0 479.1 L179.9 479.4 L179.8 479.8 L179.6 480.1 L179.4 480.4 L179.2 480.7 L178.9 481.0 L178.6 481.3 L178.2 481.6 L177.9 481.8 L177.4 482.1 L177.0 482.3 L176.5 482.5 L176.0 482.7 L175.5 482.9 L175.0 483.0 L174.4 483.2 L173.9 483.3 L173.3 483.4 L172.7 483.5 L172.0 483.6 L171.4 483.6 L170.8 483.6 L170.1 483.6 L169.5 483.6 L168.9 483.5 L168.2 483.5 L167.6 483.4 L167.0 483.3 L166.4 483.2 L165.8 483.0 L165.2 482.9 L164.7 482.7 L164.1 482.5 L163.6 482.3 L163.1 482.0 L162.6 481.8 L162.2 481.5 L161.8 481.3 L161.4 481.0 L161.0 480.7 L160.7 480.4 L160.4 480.0 L160.2 479.7 L160.0 479.4 L159.8 479.1 L159.7 478.7 L159.6 478.4 L159.5 478.0" style="stroke-width:1.5"/>
<path class="l" d="M180.1 476.0 L180.0 476.4 L180.0 476.8 L179.8 477.1 L179.7 477.4 L179.4 477.8 L179.2 478.1 L178.9 478.4 L178.6 478.7 L178.2 479.0 L177.8 479.3 L177.3 479.5 L176.9 479.8 L176.4 480.0 L175.8 480.2 L175.3 480.4 L174.7 480.5 L174.1 480.7 L173.5 480.8 L172.8 480.9 L172.2 480.9 L171.5 481.0 L170.9 481.0 L170.2 481.0 L169.5 481.0 L168.8 480.9 L168.2 480.9 L167.5 480.8 L166.9 480.7 L166.2 480.5 L165.6 480.4 L165.0 480.2 L164.4 480.0 L163.8 479.8 L163.3 479.5 L162.8 479.3 L162.3 479.0 L161.9 478.7 L161.5 478.4 L161.1 478.1 L160.7 477.8 L160.4 477.4 L160.2 477.1 L160.0 476.8 L159.8 476.4 L159.7 476.0 L159.6 475.7 L159.5 475.3 L159.5 475.0" />
<path class="l" d="M180.1 473.4 L180.0 474.2 L179.7 474.8 L179.2 475.5 L178.6 476.1 L177.8 476.7 L176.9 477.2 L175.8 477.6 L174.7 477.9 L173.5 478.2 L172.2 478.3 L170.9 478.4 L169.5 478.4 L168.2 478.3 L166.9 478.1 L165.6 477.8 L164.4 477.4 L163.3 476.9 L162.3 476.4 L161.5 475.8 L160.7 475.2 L160.2 474.5 L159.8 473.8 L159.6 473.1 L159.5 472.4 L159.6 471.6 L159.9 471.0 L160.4 470.3 L161.0 469.7 L161.8 469.1 L162.7 468.6 L163.8 468.2 L164.9 467.9 L166.1 467.6 L167.4 467.5 L168.7 467.4 L170.1 467.4 L171.4 467.5 L172.7 467.7 L174.0 468.0 L175.2 468.4 L176.3 468.9 L177.3 469.4 L178.1 470.0 L178.9 470.6 L179.4 471.3 L179.8 472.0 L180.0 472.7 L180.1 473.4Z" style="fill:#fff"/>
<path class="l" d="M176.9 472.7 L176.8 473.1 L176.6 473.6 L176.3 474.0 L175.9 474.4 L175.4 474.7 L174.7 475.0 L174.0 475.3 L173.3 475.5 L172.5 475.7 L171.6 475.8 L170.7 475.8 L169.8 475.8 L168.9 475.7 L168.0 475.6 L167.2 475.4 L166.4 475.1 L165.7 474.9 L165.0 474.5 L164.4 474.1 L163.9 473.7 L163.6 473.3 L163.3 472.9 L163.1 472.4 L163.1 471.9 L163.2 471.5 L163.4 471.0 L163.7 470.6 L164.1 470.2 L164.6 469.9 L165.3 469.6 L166.0 469.3 L166.7 469.1 L167.5 468.9 L168.4 468.8 L169.3 468.8 L170.2 468.8 L171.1 468.9 L172.0 469.0 L172.8 469.2 L173.6 469.5 L174.3 469.7 L175.0 470.1 L175.6 470.5 L176.1 470.9 L176.4 471.3 L176.7 471.7 L176.9 472.2 L176.9 472.7Z" />
<path class="l" d="M299.1 344.6 C300.0 344.2 303.2 342.6 305.1 342.1 C307.1 341.6 310.0 340.8 312.1 341.5 C314.2 342.2 317.5 344.6 319.1 346.6 C320.7 348.6 322.1 352.4 322.6 355.1 C323.1 357.8 323.4 362.7 322.6 364.6 C321.9 366.5 319.9 367.4 317.6 367.9 C315.4 368.4 309.1 367.9 307.6 367.9" style="fill:#fff"/>
<path class="l" d="M302.1 344.9 C303.2 344.6 307.3 342.7 309.4 343.1 C311.5 343.6 314.6 346.0 316.1 347.9 C317.6 349.9 319.1 353.4 319.6 356.1 C320.1 358.8 320.3 363.7 319.6 365.6 C318.9 367.5 315.8 368.1 315.1 368.5" />
<line class="l" x1="319.1" y1="346.6" x2="316.1" y2="347.9"/>
<line class="l" x1="322.6" y1="355.1" x2="319.6" y2="356.1"/>
<line class="l" x1="322.6" y1="364.6" x2="319.6" y2="365.6"/>
<path class="l" d="M306.9 346.7 L307.3 346.5 L307.7 346.3 L308.2 346.2 L308.7 346.1 L309.2 346.1 L309.7 346.1 L310.2 346.1 L310.7 346.2 L311.2 346.4 L311.7 346.5 L312.2 346.8 L312.7 347.0 L313.2 347.3 L313.7 347.7 L314.2 348.1 L314.7 348.5 L315.1 348.9 L315.5 349.4 L315.9 349.9 L316.3 350.5 L316.6 351.0 L317.0 351.6 L317.3 352.2 L317.5 352.8 L317.8 353.4 L318.0 354.1 L318.1 354.7 L318.3 355.4 L318.4 356.0 L318.4 356.7 L318.5 357.3 L318.5 357.9 L318.4 358.5 L318.4 359.1 L318.2 359.7 L318.1 360.3 L317.9 360.8 L317.7 361.4 L317.5 361.8 L317.2 362.3 L316.9 362.7 L316.6 363.1 L316.2 363.5 L315.8 363.8 L315.4 364.1 L315.0 364.3 L314.6 364.5 L314.1 364.6" style="fill:#fff;stroke-width:0.95"/>
<path class="l" d="M304.6 347.6 L305.1 347.4 L305.5 347.2 L306.0 347.1 L306.5 347.0 L307.0 347.0 L307.5 347.0 L308.0 347.0 L308.5 347.1 L309.0 347.3 L309.5 347.5 L310.0 347.7 L310.5 347.9 L311.0 348.3 L311.5 348.6 L312.0 349.0 L312.4 349.4 L312.9 349.8 L313.3 350.3 L313.7 350.8 L314.1 351.4 L314.4 351.9 L314.8 352.5 L315.1 353.1 L315.3 353.7 L315.6 354.4 L315.8 355.0 L315.9 355.6 L316.1 356.3 L316.2 356.9 L316.2 357.6 L316.3 358.2 L316.3 358.8 L316.2 359.5 L316.1 360.1 L316.0 360.6 L315.9 361.2 L315.7 361.8 L315.5 362.3 L315.3 362.8 L315.0 363.2 L314.7 363.6 L314.4 364.0 L314.0 364.4 L313.6 364.7 L313.2 365.0 L312.8 365.2 L312.3 365.4 L311.9 365.5" style="fill:#fff;stroke-width:1.30"/>
<path class="l" d="M302.6 348.5 L303.1 348.2 L303.5 348.1 L304.0 347.9 L304.5 347.9 L305.0 347.8 L305.5 347.8 L306.0 347.9 L306.5 348.0 L307.0 348.1 L307.5 348.3 L308.0 348.5 L308.5 348.8 L309.0 349.1 L309.5 349.4 L310.0 349.8 L310.4 350.2 L310.9 350.7 L311.3 351.2 L311.7 351.7 L312.1 352.2 L312.4 352.8 L312.7 353.4 L313.0 354.0 L313.3 354.6 L313.5 355.2 L313.7 355.8 L313.9 356.5 L314.0 357.1 L314.1 357.8 L314.2 358.4 L314.2 359.0 L314.2 359.7 L314.2 360.3 L314.1 360.9 L314.0 361.5 L313.9 362.0 L313.7 362.6 L313.5 363.1 L313.2 363.6 L313.0 364.0 L312.7 364.5 L312.3 364.9 L312.0 365.2 L311.6 365.5 L311.2 365.8 L310.8 366.0 L310.3 366.2 L309.9 366.4" style="fill:#fff;stroke-width:0.95"/>
<path class="l" d="M311.1 355.5 L311.5 356.7 L311.8 357.9 L312.0 359.1 L312.0 360.3 L312.0 361.5 L311.8 362.6 L311.4 363.6 L311.0 364.6 L310.4 365.4 L309.8 366.1 L309.0 366.7 L308.2 367.1 L307.4 367.4 L306.4 367.5 L305.5 367.4 L304.5 367.2 L303.5 366.8 L302.6 366.3 L301.7 365.7 L300.8 364.9 L300.0 364.0 L299.3 363.0 L298.6 361.9 L298.1 360.7 L297.7 359.5 L297.4 358.3 L297.2 357.1 L297.2 355.9 L297.2 354.7 L297.4 353.6 L297.8 352.6 L298.2 351.6 L298.8 350.8 L299.4 350.1 L300.2 349.5 L301.0 349.1 L301.8 348.8 L302.8 348.7 L303.7 348.8 L304.7 349.0 L305.7 349.4 L306.6 349.9 L307.5 350.5 L308.4 351.3 L309.2 352.2 L309.9 353.2 L310.6 354.3 L311.1 355.5Z" style="fill:#fff"/>
<path class="l" d="M310.2 355.9 L310.5 356.9 L310.8 357.9 L311.0 358.9 L311.0 360.0 L311.0 360.9 L310.8 361.9 L310.6 362.7 L310.2 363.5 L309.8 364.2 L309.2 364.8 L308.6 365.3 L308.0 365.6 L307.3 365.8 L306.5 365.9 L305.7 365.8 L304.9 365.7 L304.1 365.3 L303.3 364.9 L302.6 364.3 L301.9 363.7 L301.2 362.9 L300.6 362.0 L300.1 361.1 L299.6 360.1 L299.3 359.1 L299.0 358.1 L298.8 357.1 L298.8 356.0 L298.8 355.1 L299.0 354.1 L299.2 353.3 L299.6 352.5 L300.0 351.8 L300.6 351.2 L301.2 350.7 L301.8 350.4 L302.5 350.2 L303.3 350.1 L304.1 350.2 L304.9 350.3 L305.7 350.7 L306.5 351.1 L307.2 351.7 L307.9 352.3 L308.6 353.1 L309.2 354.0 L309.7 354.9 L310.2 355.9Z" />
<path class="l" d="M309.5 356.1 L309.8 356.9 L310.0 357.7 L310.1 358.5 L310.2 359.3 L310.1 360.0 L310.0 360.8 L309.8 361.4 L309.6 362.0 L309.2 362.6 L308.8 363.0 L308.4 363.4 L307.9 363.6 L307.4 363.8 L306.8 363.8 L306.2 363.8 L305.6 363.6 L305.0 363.4 L304.4 363.0 L303.8 362.6 L303.2 362.1 L302.7 361.5 L302.3 360.8 L301.9 360.1 L301.5 359.3 L301.2 358.5 L301.0 357.7 L300.9 356.9 L300.8 356.1 L300.9 355.4 L301.0 354.6 L301.2 354.0 L301.4 353.4 L301.8 352.8 L302.2 352.4 L302.6 352.0 L303.1 351.8 L303.6 351.6 L304.2 351.6 L304.8 351.6 L305.4 351.8 L306.0 352.0 L306.6 352.4 L307.2 352.8 L307.8 353.3 L308.3 353.9 L308.7 354.6 L309.1 355.3 L309.5 356.1Z" />
<path class="l" d="M118.3 478.0 C117.8 479.3 117.5 479.7 116.9 482.0 C116.3 484.3 115.9 482.9 116.4 484.8 C116.9 486.7 116.7 486.3 118.3 487.6 C119.9 488.9 119.1 488.5 121.3 488.7 C123.5 488.9 122.7 488.9 125.0 488.3 C127.3 487.7 126.6 488.6 128.1 486.8 C129.6 485.0 129.0 485.9 129.6 483.0 C130.2 480.1 129.9 479.7 130.0 478.0" style="fill:#fff"/>
<path class="l" d="M116.8 482.6 C118.0 483.5 117.6 484.5 120.5 485.2 C123.4 485.9 122.5 485.8 125.5 484.6 C128.5 483.4 128.1 482.6 129.4 481.6" />
<path class="l" d="M116.6 485.2 C117.9 485.9 117.7 486.9 120.6 487.4 C123.5 487.9 122.5 487.7 125.2 486.8 C127.9 485.9 127.5 485.3 128.6 484.6" />
<path class="l" d="M114.3 452.3 L127.1 445.5 L127.1 445.5 L127.6 445.3 L128.0 445.1 L128.5 445.1 L129.0 445.0 L129.5 445.1 L130.0 445.1 L130.6 445.3 L131.2 445.5 L131.7 445.7 L132.3 446.0 L132.9 446.4 L133.5 446.8 L134.1 447.2 L134.7 447.7 L135.3 448.3 L135.9 448.8 L136.5 449.5 L137.0 450.1 L137.6 450.8 L138.1 451.5 L138.6 452.3 L139.1 453.1 L139.6 453.9 L140.1 454.7 L140.5 455.5 L140.9 456.3 L141.2 457.2 L141.6 458.0 L141.9 458.9 L142.1 459.7 L142.4 460.6 L142.6 461.4 L142.7 462.2 L142.8 463.0 L142.9 463.8 L142.9 464.5 L142.9 465.2 L142.9 465.9 L142.8 466.6 L142.7 467.2 L142.6 467.8 L142.4 468.3 L142.1 468.8 L141.9 469.2 L141.6 469.6 L141.2 470.0 L140.9 470.3 L140.5 470.5 L140.5 470.5 L127.7 477.3 L127.7 477.3 L127.2 477.5 L126.8 477.7 L126.3 477.7 L125.8 477.8 L125.3 477.7 L124.8 477.7 L124.2 477.5 L123.6 477.3 L123.1 477.1 L122.5 476.8 L121.9 476.4 L121.3 476.0 L120.7 475.6 L120.1 475.1 L119.5 474.5 L118.9 474.0 L118.3 473.3 L117.8 472.7 L117.2 472.0 L116.7 471.3 L116.2 470.5 L115.7 469.7 L115.2 468.9 L114.7 468.1 L114.3 467.3 L113.9 466.5 L113.6 465.6 L113.2 464.8 L112.9 463.9 L112.7 463.1 L112.4 462.2 L112.2 461.4 L112.1 460.6 L112.0 459.8 L111.9 459.0 L111.9 458.3 L111.9 457.6 L111.9 456.9 L112.0 456.2 L112.1 455.6 L112.2 455.0 L112.4 454.5 L112.7 454.0 L112.9 453.6 L113.2 453.2 L113.6 452.8 L113.9 452.5 L114.3 452.3Z" style="fill:#fff"/>
<path class="l" d="M114.3 452.3 L114.8 452.1 L115.2 451.9 L115.7 451.9 L116.2 451.8 L116.7 451.9 L117.2 451.9 L117.8 452.1 L118.4 452.3 L118.9 452.5 L119.5 452.8 L120.1 453.2 L120.7 453.6 L121.3 454.0 L121.9 454.5 L122.5 455.1 L123.1 455.6 L123.7 456.3 L124.2 456.9 L124.8 457.6 L125.3 458.3 L125.8 459.1 L126.3 459.9 L126.8 460.7 L127.3 461.5 L127.7 462.3 L128.1 463.1 L128.4 464.0 L128.8 464.8 L129.1 465.7 L129.3 466.5 L129.6 467.4 L129.8 468.2 L129.9 469.0 L130.0 469.8 L130.1 470.6 L130.1 471.3 L130.1 472.0 L130.1 472.7 L130.0 473.4 L129.9 474.0 L129.8 474.6 L129.6 475.1 L129.3 475.6 L129.1 476.0 L128.8 476.4 L128.4 476.8 L128.1 477.1 L127.7 477.3" style="stroke-width:1.3"/>
<path class="l" d="M116.1 451.1 L116.6 450.9 L117.0 450.7 L117.5 450.7 L118.0 450.6 L118.5 450.7 L119.0 450.7 L119.6 450.9 L120.2 451.1 L120.7 451.3 L121.3 451.6 L121.9 452.0 L122.5 452.4 L123.1 452.8 L123.7 453.3 L124.3 453.9 L124.9 454.4 L125.5 455.1 L126.0 455.7 L126.6 456.4 L127.1 457.1 L127.6 457.9 L128.1 458.7 L128.6 459.5 L129.1 460.3 L129.5 461.1 L129.9 461.9 L130.2 462.8 L130.6 463.6 L130.9 464.5 L131.1 465.3 L131.4 466.2 L131.6 467.0 L131.7 467.8 L131.8 468.6 L131.9 469.4 L131.9 470.1 L131.9 470.8 L131.9 471.5 L131.8 472.2 L131.7 472.8 L131.6 473.4 L131.4 473.9 L131.1 474.4 L130.9 474.8 L130.6 475.2 L130.2 475.6 L129.9 475.9 L129.5 476.1" />
<path class="l" d="M127.1 445.5 L127.6 445.3 L128.0 445.1 L128.5 445.1 L129.0 445.0 L129.5 445.1 L130.0 445.1 L130.6 445.3 L131.2 445.5 L131.7 445.7 L132.3 446.0 L132.9 446.4 L133.5 446.8 L134.1 447.2 L134.7 447.7 L135.3 448.3 L135.9 448.8 L136.5 449.5 L137.0 450.1 L137.6 450.8 L138.1 451.5 L138.6 452.3 L139.1 453.1 L139.6 453.9 L140.1 454.7 L140.5 455.5 L140.9 456.3 L141.2 457.2 L141.6 458.0 L141.9 458.9 L142.1 459.7 L142.4 460.6 L142.6 461.4 L142.7 462.2 L142.8 463.0 L142.9 463.8 L142.9 464.5 L142.9 465.2 L142.9 465.9 L142.8 466.6 L142.7 467.2 L142.6 467.8 L142.4 468.3 L142.1 468.8 L141.9 469.2 L141.6 469.6 L141.2 470.0 L140.9 470.3 L140.5 470.5" />
<path class="l" d="M131.3 448.7 L136.0 446.2 L136.0 446.2 L136.2 446.1 L136.5 446.0 L136.8 446.0 L137.0 446.0 L137.3 446.0 L137.7 446.1 L138.0 446.2 L138.3 446.4 L138.7 446.6 L139.0 446.8 L139.4 447.0 L139.7 447.3 L140.1 447.6 L140.5 448.0 L140.8 448.3 L141.2 448.7 L141.6 449.2 L141.9 449.6 L142.3 450.1 L142.6 450.6 L143.0 451.1 L143.3 451.6 L143.6 452.1 L143.9 452.6 L144.2 453.2 L144.4 453.7 L144.7 454.3 L144.9 454.9 L145.1 455.4 L145.3 456.0 L145.5 456.5 L145.6 457.0 L145.8 457.6 L145.9 458.1 L145.9 458.6 L146.0 459.1 L146.0 459.5 L146.0 460.0 L146.0 460.4 L146.0 460.8 L145.9 461.1 L145.8 461.5 L145.7 461.8 L145.6 462.0 L145.4 462.3 L145.2 462.5 L145.0 462.7 L144.8 462.8 L144.8 462.8 L140.1 465.3" style="fill:#fff"/>
<path class="l" d="M143.9 452.6 L144.4 453.7 L144.9 454.9 L145.3 456.0 L145.6 457.0 L145.9 458.1 L146.0 459.1 L146.0 460.0 L146.0 460.8 L145.8 461.5 L145.6 462.0 L145.2 462.5 L144.8 462.8 L144.3 463.0 L143.8 463.0 L143.1 462.9 L142.5 462.6 L141.8 462.2 L141.1 461.7 L140.3 461.0 L139.6 460.3 L138.9 459.4 L138.2 458.4 L137.5 457.4 L136.9 456.4 L136.4 455.3 L135.9 454.1 L135.5 453.0 L135.2 452.0 L134.9 450.9 L134.8 449.9 L134.8 449.0 L134.8 448.2 L135.0 447.5 L135.2 447.0 L135.6 446.5 L136.0 446.2 L136.5 446.0 L137.0 446.0 L137.7 446.1 L138.3 446.4 L139.0 446.8 L139.7 447.3 L140.5 448.0 L141.2 448.7 L141.9 449.6 L142.6 450.6 L143.3 451.6 L143.9 452.6Z" style="fill:#fff"/>
<path class="l" d="M134.5 447.5 L134.7 447.5 L135.0 447.5 L135.2 447.6 L135.5 447.6 L135.8 447.8 L136.1 447.9 L136.4 448.0 L136.7 448.2 L137.1 448.5 L137.4 448.7 L137.7 449.0 L138.0 449.2 L138.4 449.6 L138.7 449.9 L139.0 450.2 L139.3 450.6 L139.7 451.0 L140.0 451.4 L140.3 451.8 L140.6 452.3 L140.9 452.7 L141.1 453.2 L141.4 453.7 L141.7 454.1 L141.9 454.6 L142.2 455.1 L142.4 455.6 L142.6 456.1 L142.8 456.6 L143.0 457.1 L143.1 457.6 L143.3 458.1 L143.4 458.5 L143.5 459.0 L143.6 459.5 L143.7 459.9 L143.8 460.3 L143.8 460.8 L143.8 461.2 L143.8 461.6 L143.8 461.9 L143.8 462.3 L143.7 462.6 L143.6 462.9 L143.5 463.2 L143.4 463.4 L143.3 463.6 L143.2 463.9" />
<path class="l" d="M123.4 465.6 L128.4 463.4 L129.2 475.6 L125.2 477.4Z" />
<path class="l" d="M125.0 467.4 L127.2 466.4 L127.8 473.6 L125.8 474.6Z" />
<path class="l" d="M105.3 460.3 L111.3 456.5 L111.3 456.5 L111.7 456.3 L112.2 456.2 L112.6 456.1 L113.1 456.0 L113.5 456.0 L114.0 456.1 L114.5 456.1 L115.0 456.3 L115.5 456.4 L116.0 456.6 L116.6 456.9 L117.1 457.2 L117.6 457.5 L118.1 457.9 L118.6 458.3 L119.1 458.7 L119.6 459.2 L120.1 459.7 L120.5 460.2 L121.0 460.8 L121.4 461.4 L121.8 462.0 L122.2 462.6 L122.5 463.2 L122.9 463.9 L123.2 464.6 L123.4 465.2 L123.7 465.9 L123.9 466.6 L124.1 467.3 L124.2 467.9 L124.4 468.6 L124.5 469.3 L124.5 469.9 L124.5 470.5 L124.5 471.2 L124.5 471.8 L124.4 472.3 L124.3 472.9 L124.1 473.4 L123.9 473.9 L123.7 474.3 L123.5 474.8 L123.2 475.1 L122.9 475.5 L122.6 475.8 L122.2 476.1 L121.9 476.3 L121.9 476.3 L115.9 480.1 L115.9 480.1 L115.5 480.3 L115.0 480.4 L114.6 480.5 L114.1 480.6 L113.7 480.6 L113.2 480.5 L112.7 480.5 L112.2 480.3 L111.7 480.2 L111.2 480.0 L110.6 479.7 L110.1 479.4 L109.6 479.1 L109.1 478.7 L108.6 478.3 L108.1 477.9 L107.6 477.4 L107.1 476.9 L106.7 476.4 L106.2 475.8 L105.8 475.2 L105.4 474.6 L105.0 474.0 L104.7 473.4 L104.3 472.7 L104.0 472.0 L103.8 471.4 L103.5 470.7 L103.3 470.0 L103.1 469.3 L103.0 468.7 L102.8 468.0 L102.7 467.3 L102.7 466.7 L102.7 466.1 L102.7 465.4 L102.7 464.8 L102.8 464.3 L102.9 463.7 L103.1 463.2 L103.3 462.7 L103.5 462.3 L103.7 461.8 L104.0 461.5 L104.3 461.1 L104.6 460.8 L105.0 460.5 L105.3 460.3Z" style="fill:#fff"/>
<path class="l" d="M109.3 457.9 L109.7 457.7 L110.2 457.6 L110.6 457.5 L111.1 457.4 L111.5 457.4 L112.0 457.5 L112.5 457.5 L113.0 457.7 L113.5 457.8 L114.0 458.0 L114.6 458.3 L115.1 458.6 L115.6 458.9 L116.1 459.3 L116.6 459.7 L117.1 460.1 L117.6 460.6 L118.1 461.1 L118.5 461.6 L119.0 462.2 L119.4 462.8 L119.8 463.4 L120.2 464.0 L120.5 464.6 L120.9 465.3 L121.2 466.0 L121.4 466.6 L121.7 467.3 L121.9 468.0 L122.1 468.7 L122.2 469.3 L122.4 470.0 L122.5 470.7 L122.5 471.3 L122.5 471.9 L122.5 472.6 L122.5 473.2 L122.4 473.7 L122.3 474.3 L122.1 474.8 L121.9 475.3 L121.7 475.7 L121.5 476.2 L121.2 476.5 L120.9 476.9 L120.6 477.2 L120.2 477.5 L119.9 477.7" />
<path d="M105.2 459.6 L105.7 459.3 L106.2 459.1 L106.7 458.9 L107.2 458.8 L107.8 458.7 L108.4 458.6 L108.9 458.6 L109.5 458.7 L110.2 458.8 L110.8 459.0 L111.4 459.2 L112.0 459.5 L112.6 459.8 L113.2 460.1 L113.8 460.5 L114.4 461.0 L115.0 461.5 L115.5 462.0 L116.0 462.6 L116.6 463.2 L117.0 463.8 L117.5 464.5 L117.9 465.2 L118.3 465.9 L118.7 466.6 L119.0 467.3 L119.3 468.1 L119.6 468.8 L119.8 469.6 L119.9 470.3 L120.1 471.1 L120.2 471.8 L120.2 472.6 L120.2 473.3 L120.2 474.0 L120.1 474.7 L120.0 475.4 L119.8 476.0 L119.6 476.6 L119.4 477.2 L119.1 477.7 L118.8 478.2 L118.4 478.6 L118.0 479.0 L117.6 479.4 L117.1 479.7 L116.7 480.0 L116.2 480.2 L112.3 482.5 L112.8 482.3 L113.2 482.0 L113.7 481.7 L114.1 481.3 L114.5 480.9 L114.9 480.5 L115.2 480.0 L115.5 479.5 L115.7 478.9 L115.9 478.3 L116.1 477.7 L116.2 477.0 L116.3 476.3 L116.3 475.6 L116.3 474.9 L116.3 474.1 L116.2 473.4 L116.0 472.6 L115.9 471.9 L115.7 471.1 L115.4 470.4 L115.1 469.6 L114.8 468.9 L114.4 468.2 L114.0 467.5 L113.6 466.8 L113.1 466.1 L112.7 465.5 L112.1 464.9 L111.6 464.3 L111.1 463.8 L110.5 463.3 L109.9 462.8 L109.3 462.4 L108.7 462.1 L108.1 461.8 L107.5 461.5 L106.9 461.3 L106.3 461.1 L105.6 461.0 L105.0 460.9 L104.5 460.9 L103.9 461.0 L103.3 461.1 L102.8 461.2 L102.3 461.4 L101.8 461.6 L101.3 461.9Z" style="fill:#262626;stroke:#111;stroke-width:0.8"/>
<path class="l" d="M114.4 468.2 L115.1 469.5 L115.6 471.0 L116.0 472.4 L116.2 473.8 L116.3 475.2 L116.3 476.6 L116.0 477.8 L115.7 479.0 L115.2 480.0 L114.5 480.9 L113.8 481.7 L112.9 482.2 L111.9 482.6 L110.9 482.8 L109.8 482.9 L108.6 482.7 L107.5 482.4 L106.3 481.8 L105.2 481.2 L104.1 480.3 L103.0 479.3 L102.0 478.2 L101.2 477.0 L100.4 475.6 L99.7 474.3 L99.2 472.8 L98.8 471.4 L98.6 470.0 L98.5 468.6 L98.5 467.2 L98.8 466.0 L99.1 464.8 L99.6 463.8 L100.3 462.9 L101.0 462.1 L101.9 461.6 L102.9 461.2 L103.9 461.0 L105.0 460.9 L106.2 461.1 L107.3 461.4 L108.5 462.0 L109.6 462.6 L110.7 463.5 L111.8 464.5 L112.8 465.6 L113.6 466.8 L114.4 468.2Z" style="fill:#fff;stroke-width:1.1"/>
<!--BODY-->
<line class="g" x1="220.0" y1="61.0" x2="304.0" y2="74.8"/>
<line class="g" x1="220.8" y1="127.3" x2="473.0" y2="150.4"/>
<line class="g" x1="220.6" y1="208.0" x2="321.0" y2="247.4"/>
<line class="g" x1="359.2" y1="382.2" x2="322.2" y2="365.2"/>
<line class="g" x1="148.0" y1="517.0" x2="125.0" y2="489.0"/>
<line class="g" x1="209.0" y1="518.0" x2="168.0" y2="491.0"/>
</g>
</svg></body></html>
